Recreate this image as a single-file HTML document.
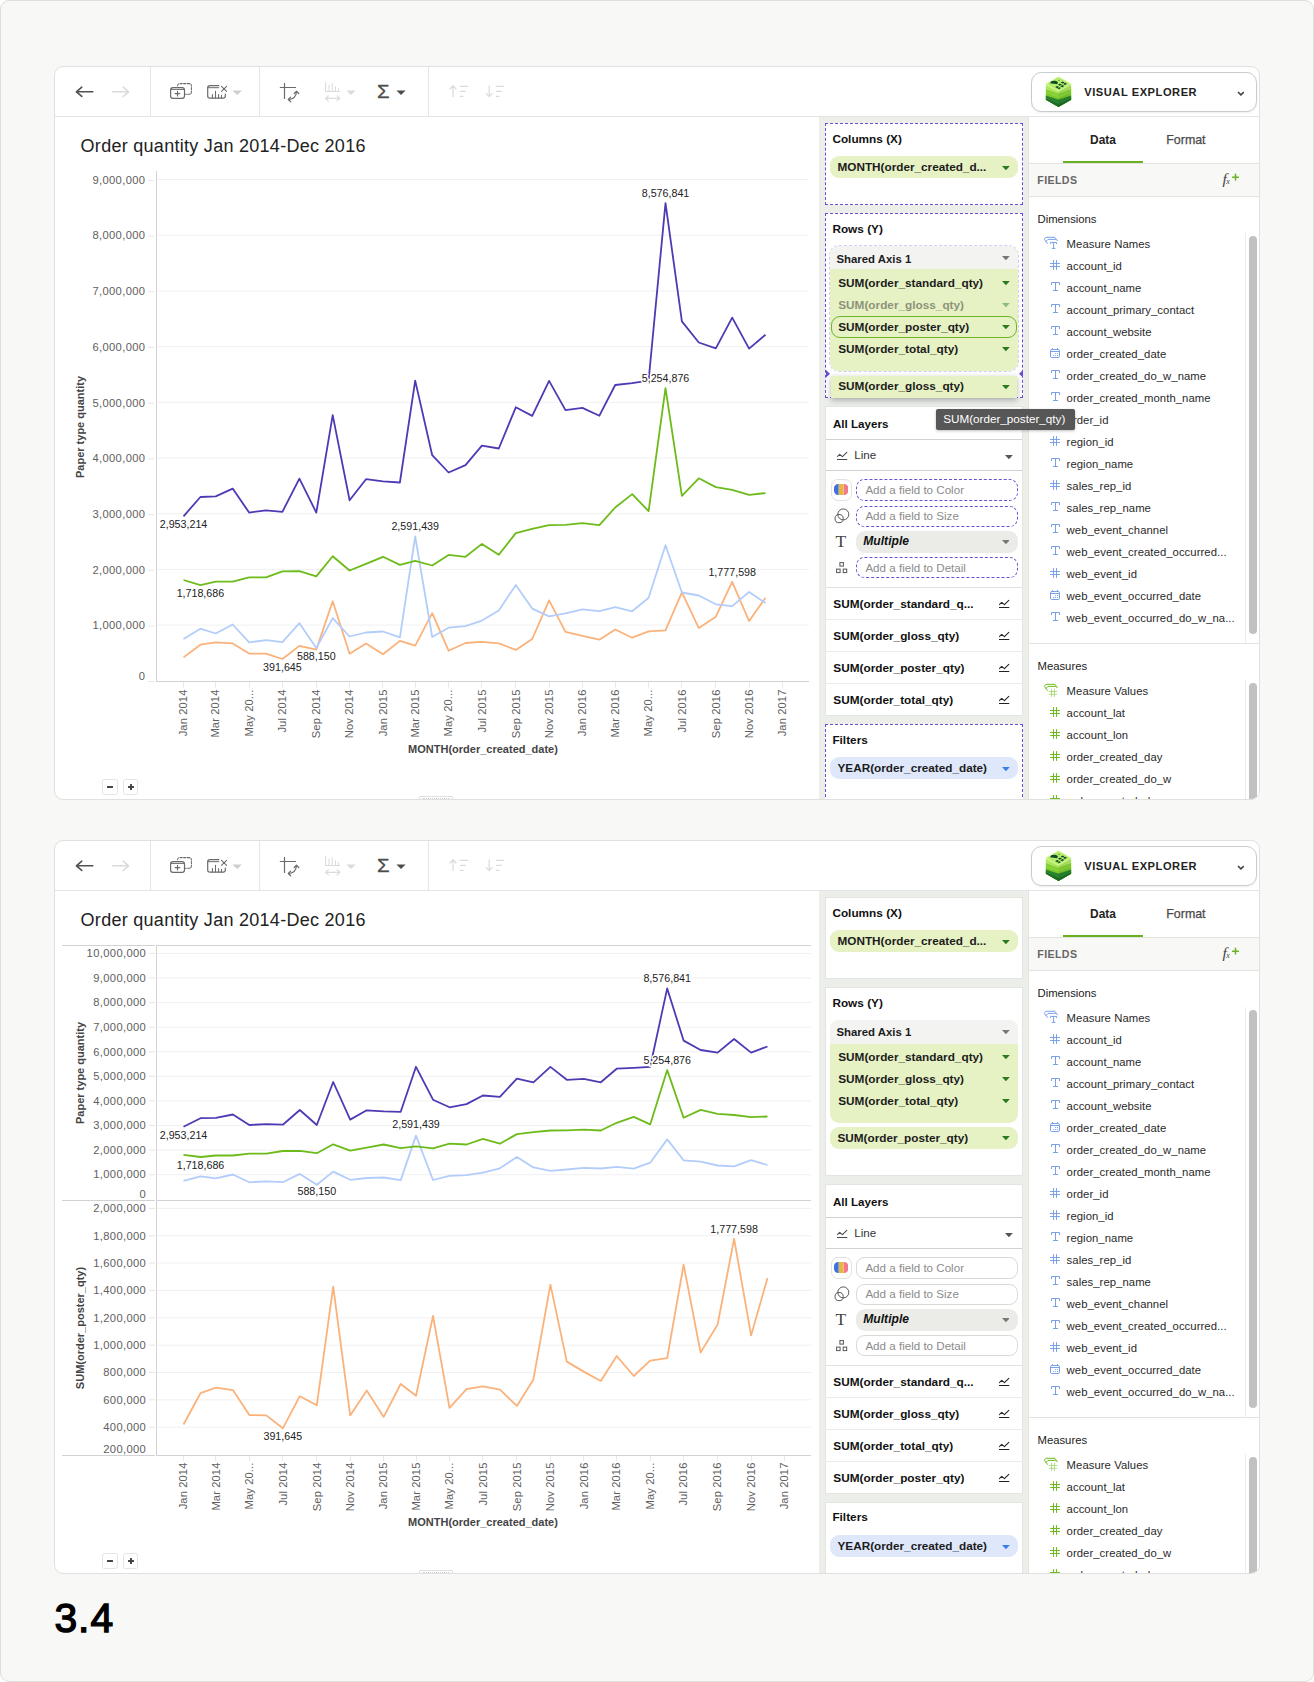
<!DOCTYPE html>
<html lang="en"><head><meta charset="utf-8"><title>Visual Explorer - shared axis</title>
<style>
*{margin:0;padding:0}
html,body{width:1314px;height:1682px;background:#fff;overflow:hidden}
body{position:relative;font-family:"Liberation Sans", sans-serif;font-size:12px;line-height:14px;color:#222}
.page{position:absolute;left:0;top:0;width:1314px;height:1682px;box-sizing:border-box;background:#f8f8f6;border:1px solid #dddfdc;border-radius:9px}
.card{position:absolute;left:54px;width:1206px;height:734px;box-sizing:border-box;background:#fff;border:1px solid #dfe1de;border-radius:9px;overflow:hidden}
.abs{position:absolute}
.b{font-weight:bold}
.chart{position:absolute}
.chart text{font-family:"Liberation Sans", sans-serif}
.al{font-size:11.2px;fill:#606060}
.yl{letter-spacing:.36px}
.xl{letter-spacing:.1px}
.at{font-size:11px;font-weight:bold;fill:#444}
.dl{font-size:10.7px;fill:#222;stroke:#fff;stroke-width:3px;paint-order:stroke;stroke-linejoin:round}
.sigma{font-size:23px;line-height:24px;color:#444;width:14px;text-align:center}
.ve{box-sizing:border-box;border:1px solid #c6cbcb;border-radius:10.5px;background:#fff;box-shadow:0 1px 2px rgba(0,0,0,.07)}
.mid{background:#eceeea;overflow:hidden}
.wc{background:#fff;box-sizing:border-box;border:1px solid #e3e5e0}
.sh{font-size:11.8px;color:#111;white-space:nowrap}
.pt{font-size:11.8px;color:#1c1c1c;white-space:nowrap;line-height:14px}
.hl{left:0;width:100%;height:1px;background:#dcdedb}
.dp{background:#fff;border-left:1px solid #e3e3e0;overflow:hidden}
.tab{font-size:12px;line-height:14px}
.t{white-space:nowrap;line-height:14px}
.zb{width:15.4px;height:15.4px;box-sizing:border-box;border:1px solid #e4e4e4;border-radius:2.5px;background:#fff}
.zb i{position:absolute;background:#444;border-radius:.5px}
.num{position:absolute;left:54.4px;top:1594.6px;font-size:40.8px;line-height:46px;font-weight:normal;color:#000;-webkit-text-stroke:1.35px #000;letter-spacing:1px}
</style></head><body>
<div class="page"></div>
<div class="card" style="top:66px"><svg class="abs" style="left:0;top:0" width="500" height="49" viewBox="55 67 500 49" fill="none" stroke-linecap="round" stroke-linejoin="round"><path d="M92.8 91.8H76.6M81.8 87.2L76.4 91.8L81.8 96.4" stroke="#4f524f" stroke-width="1.6"/><path d="M112.4 91.8H128.4M123.2 87.2L128.6 91.8L123.2 96.4" stroke="#dadcda" stroke-width="1.6"/><line x1="150.5" x2="150.5" y1="67" y2="116" stroke="#e6e6e6" stroke-linecap="butt"/><line x1="259.5" x2="259.5" y1="67" y2="116" stroke="#e6e6e6" stroke-linecap="butt"/><line x1="428.5" x2="428.5" y1="67" y2="116" stroke="#e6e6e6" stroke-linecap="butt"/><rect x="170.6" y="87.6" width="13.9" height="10.8" rx="2.4" stroke="#686b68" stroke-width="1.2"/><path d="M171.4 89.4H183.8" stroke="#686b68" stroke-width="1"/><path d="M177.5 91.2V95.9M175.1 93.55H179.9" stroke="#686b68" stroke-width="1.15"/><path d="M177.6 85.8Q177.6 83.6 180 83.6H189Q191.4 83.6 191.4 86V91.9Q191.4 94.3 189 94.3H185.2" stroke="#686b68" stroke-width="1.05" stroke-dasharray="2.3 1.3"/><path d="M218.8 85.6H209.8Q207.7 85.6 207.7 87.8V96Q207.7 98.2 209.9 98.2H223.1Q225.3 98.2 225.3 96V94.2" stroke="#686b68" stroke-width="1.2"/><path d="M208.2 87.7H218.8" stroke="#686b68" stroke-width="1"/><path d="M212.4 98V94.4M215.5 98V91.3M218.6 98V94.4M221.5 98V95.3" stroke="#686b68" stroke-width="1.05"/><path d="M221.5 86.4L226.6 91.4M226.6 86.4L221.5 91.4" stroke="#686b68" stroke-width="1.05"/><path d="M232.4 90.4H242L237.2 94.9Z" fill="#cdd0cd" stroke="none"/><path d="M284.5 83.4V98.5M280.3 87.5H295.6" stroke="#686b68" stroke-width="1.2"/><path d="M288.8 99.5Q295.8 99.2 296.5 91.8" stroke="#686b68" stroke-width="1.2"/><path d="M290.6 97.1L288.3 99.5L290.7 101.8M294.2 93.5L296.5 91.2L298.8 93.5" stroke="#686b68" stroke-width="1.2"/><path d="M325.6 82.2V91.4H339.8M329 85V91.2M332.2 83.6V91.2M335.4 86.4V91.2M338.4 88.6V91.2" stroke="#dadcda" stroke-width="1.05"/><path d="M325.6 98.4H339.8M328.4 95.8L325.4 98.4L328.4 101M337 95.8L340 98.4L337 101" stroke="#dadcda" stroke-width="1.15"/><path d="M346.4 90.4H355.6L351 94.9Z" fill="#dadcda" stroke="none"/><path d="M396.4 90.4H405.6L401 94.9Z" fill="#4a4d4a" stroke="none"/><path d="M453 96.6V86M450 89L453 85.8L456 89" stroke="#dadcda" stroke-width="1.25"/><path d="M460.4 86.4H467.8M460.4 91.4H465.4M460.4 96.4H463" stroke="#dadcda" stroke-width="1.15"/><path d="M489.2 85.8V96.4M486.2 93.4L489.2 96.6L492.2 93.4" stroke="#dadcda" stroke-width="1.25"/><path d="M496.4 86.4H503.8M496.4 91.4H501.4M496.4 96.4H499" stroke="#dadcda" stroke-width="1.15"/></svg><div class="abs" style="left:322.0px;top:14.0px;font-size:19.2px;line-height:22px;color:#4a4d4a;transform:scaleX(1.06);transform-origin:0 0;-webkit-text-stroke:.3px #4a4d4a">&Sigma;</div><div class="abs" style="left:976.2px;top:5.3px;width:225.6px;height:39.5px;box-sizing:border-box;border:1px solid #c6cbcb;border-radius:10.5px;background:#fff;box-shadow:0 1px 2px rgba(0,0,0,.07)"></div><svg class="abs" style="left:988px;top:8px" width="32" height="34" viewBox="1043 75 32 34"><path d="M1045.9 83.9L1058.5 91.2L1071.1 83.9V99.7L1058.5 106.9L1045.9 99.7Z" fill="#bdf070"/><path d="M1045.9 86.7L1058.5 92.6L1071.1 86.7V99.7L1058.5 106.9L1045.9 99.7Z" fill="#b2e963"/><path d="M1045.9 86.7L1058.5 92.6L1071.1 86.7" fill="none" stroke="#9fdc4e" stroke-width=".6"/><path d="M1045.9 89.6L1058.5 94.0L1071.1 89.6V99.7L1058.5 106.9L1045.9 99.7Z" fill="#86d236"/><path d="M1045.9 89.6L1058.5 94.0L1071.1 89.6" fill="none" stroke="#7cc830" stroke-width=".6"/><path d="M1045.9 92.8L1058.5 97.0L1071.1 92.8V99.7L1058.5 106.9L1045.9 99.7Z" fill="#7ac82e"/><path d="M1045.9 92.8L1058.5 97.0L1071.1 92.8" fill="none" stroke="#93da42" stroke-width=".6"/><path d="M1045.9 96.0L1058.5 99.9L1071.1 96.0V99.7L1058.5 106.9L1045.9 99.7Z" fill="#27812f"/><path d="M1045.9 96.0L1058.5 99.9L1071.1 96.0" fill="none" stroke="#23762b" stroke-width=".6"/><path d="M1045.9 97.9L1058.5 103.4L1071.1 97.9V99.7L1058.5 106.9L1045.9 99.7Z" fill="#1f6b27"/><path d="M1045.9 97.9L1058.5 103.4L1071.1 97.9" fill="none" stroke="#318f38" stroke-width=".6"/><path d="M1071.1 83.9V99.7L1058.5 106.9V91.2Z" fill="#0a3d14" opacity=".07"/><path d="M1058.5 76.7L1071.1 83.9L1058.5 91.10000000000001L1045.9 83.9Z" fill="#c6f57e" stroke="#c6f57e" stroke-width=".4" stroke-linejoin="round"/><g transform="matrix(6.3 3.6 -6.3 3.6 1058.5 83.9)"><rect x="-.82" y="-.82" width="1.64" height="1.64" rx=".18" fill="#b9ee6c" stroke="#9fda50" stroke-width=".06"/><path d="M-.7 .56A.42 .42 0 1 1 -.08 .16L-.36 .34Z" fill="#0d4a2a"/><path d="M-.02 -.52H.74M.08 0H.76M.18 .54H.76" stroke="#0d4a2a" stroke-width=".32" stroke-dasharray=".3 .08" fill="none"/><path d="M-.55 -.5H-.3" stroke="#4c9a3a" stroke-width=".14" fill="none"/></g></svg><div class="abs t" style="left:1029.2px;top:18.4px;font-size:11.1px;line-height:14px;font-weight:bold;color:#222;letter-spacing:.56px">VISUAL EXPLORER</div><svg class="abs" style="left:1181.6px;top:23.6px" width="7.8" height="5.4" viewBox="0 0 7.8 5.4" ><path d="M1 1L3.9 3.9L6.8 1" fill="none" stroke="#444" stroke-width="1.6"/></svg><div class="abs t" style="left:25.6px;top:68.0px;font-size:18px;line-height:22px;font-weight:normal;color:#222;letter-spacing:.28px">Order quantity Jan 2014-Dec 2016</div><svg class="chart" width="764" height="683" viewBox="55 116 764 683" style="left:0;top:49px"><line x1="148" x2="154" y1="681.50" y2="681.50" stroke="#e6e6e6"/><text x="145.4" y="680.3" text-anchor="end" class="al yl">0</text><line x1="157" x2="809" y1="625.10" y2="625.10" stroke="#f0f0f0"/><line x1="148" x2="154" y1="626.00" y2="626.00" stroke="#e6e6e6"/><text x="145.4" y="629.3" text-anchor="end" class="al yl">1,000,000</text><line x1="157" x2="809" y1="569.40" y2="569.40" stroke="#f0f0f0"/><line x1="148" x2="154" y1="570.30" y2="570.30" stroke="#e6e6e6"/><text x="145.4" y="573.6" text-anchor="end" class="al yl">2,000,000</text><line x1="157" x2="809" y1="513.70" y2="513.70" stroke="#f0f0f0"/><line x1="148" x2="154" y1="514.60" y2="514.60" stroke="#e6e6e6"/><text x="145.4" y="517.9" text-anchor="end" class="al yl">3,000,000</text><line x1="157" x2="809" y1="458.00" y2="458.00" stroke="#f0f0f0"/><line x1="148" x2="154" y1="458.90" y2="458.90" stroke="#e6e6e6"/><text x="145.4" y="462.2" text-anchor="end" class="al yl">4,000,000</text><line x1="157" x2="809" y1="402.30" y2="402.30" stroke="#f0f0f0"/><line x1="148" x2="154" y1="403.20" y2="403.20" stroke="#e6e6e6"/><text x="145.4" y="406.5" text-anchor="end" class="al yl">5,000,000</text><line x1="157" x2="809" y1="346.60" y2="346.60" stroke="#f0f0f0"/><line x1="148" x2="154" y1="347.50" y2="347.50" stroke="#e6e6e6"/><text x="145.4" y="350.8" text-anchor="end" class="al yl">6,000,000</text><line x1="157" x2="809" y1="290.90" y2="290.90" stroke="#f0f0f0"/><line x1="148" x2="154" y1="291.80" y2="291.80" stroke="#e6e6e6"/><text x="145.4" y="295.1" text-anchor="end" class="al yl">7,000,000</text><line x1="157" x2="809" y1="235.20" y2="235.20" stroke="#f0f0f0"/><line x1="148" x2="154" y1="236.10" y2="236.10" stroke="#e6e6e6"/><text x="145.4" y="239.4" text-anchor="end" class="al yl">8,000,000</text><line x1="157" x2="809" y1="179.50" y2="179.50" stroke="#f0f0f0"/><line x1="148" x2="154" y1="180.40" y2="180.40" stroke="#e6e6e6"/><text x="145.4" y="183.7" text-anchor="end" class="al yl">9,000,000</text><line x1="156.5" x2="156.5" y1="171" y2="682" stroke="#d2d2d2"/><line x1="156" x2="809" y1="681.5" y2="681.5" stroke="#d2d2d2"/><line x1="183.5" x2="183.5" y1="682" y2="687.8" stroke="#e9e9e9"/><text transform="translate(187.2,689.5) rotate(-90)" text-anchor="end" class="al xl">Jan 2014</text><line x1="215.5" x2="215.5" y1="682" y2="687.8" stroke="#e9e9e9"/><text transform="translate(219.4,689.5) rotate(-90)" text-anchor="end" class="al xl">Mar 2014</text><line x1="249.5" x2="249.5" y1="682" y2="687.8" stroke="#e9e9e9"/><text transform="translate(252.8,689.5) rotate(-90)" text-anchor="end" class="al xl">May 20...</text><line x1="282.5" x2="282.5" y1="682" y2="687.8" stroke="#e9e9e9"/><text transform="translate(286.1,689.5) rotate(-90)" text-anchor="end" class="al xl">Jul 2014</text><line x1="316.5" x2="316.5" y1="682" y2="687.8" stroke="#e9e9e9"/><text transform="translate(320.0,689.5) rotate(-90)" text-anchor="end" class="al xl">Sep 2014</text><line x1="349.5" x2="349.5" y1="682" y2="687.8" stroke="#e9e9e9"/><text transform="translate(353.3,689.5) rotate(-90)" text-anchor="end" class="al xl">Nov 2014</text><line x1="382.5" x2="382.5" y1="682" y2="687.8" stroke="#e9e9e9"/><text transform="translate(386.7,689.5) rotate(-90)" text-anchor="end" class="al xl">Jan 2015</text><line x1="415.5" x2="415.5" y1="682" y2="687.8" stroke="#e9e9e9"/><text transform="translate(418.9,689.5) rotate(-90)" text-anchor="end" class="al xl">Mar 2015</text><line x1="448.5" x2="448.5" y1="682" y2="687.8" stroke="#e9e9e9"/><text transform="translate(452.3,689.5) rotate(-90)" text-anchor="end" class="al xl">May 20...</text><line x1="481.5" x2="481.5" y1="682" y2="687.8" stroke="#e9e9e9"/><text transform="translate(485.6,689.5) rotate(-90)" text-anchor="end" class="al xl">Jul 2015</text><line x1="515.5" x2="515.5" y1="682" y2="687.8" stroke="#e9e9e9"/><text transform="translate(519.5,689.5) rotate(-90)" text-anchor="end" class="al xl">Sep 2015</text><line x1="549.5" x2="549.5" y1="682" y2="687.8" stroke="#e9e9e9"/><text transform="translate(552.8,689.5) rotate(-90)" text-anchor="end" class="al xl">Nov 2015</text><line x1="582.5" x2="582.5" y1="682" y2="687.8" stroke="#e9e9e9"/><text transform="translate(586.1,689.5) rotate(-90)" text-anchor="end" class="al xl">Jan 2016</text><line x1="615.5" x2="615.5" y1="682" y2="687.8" stroke="#e9e9e9"/><text transform="translate(618.9,689.5) rotate(-90)" text-anchor="end" class="al xl">Mar 2016</text><line x1="648.5" x2="648.5" y1="682" y2="687.8" stroke="#e9e9e9"/><text transform="translate(652.3,689.5) rotate(-90)" text-anchor="end" class="al xl">May 20...</text><line x1="681.5" x2="681.5" y1="682" y2="687.8" stroke="#e9e9e9"/><text transform="translate(685.6,689.5) rotate(-90)" text-anchor="end" class="al xl">Jul 2016</text><line x1="715.5" x2="715.5" y1="682" y2="687.8" stroke="#e9e9e9"/><text transform="translate(719.5,689.5) rotate(-90)" text-anchor="end" class="al xl">Sep 2016</text><line x1="749.5" x2="749.5" y1="682" y2="687.8" stroke="#e9e9e9"/><text transform="translate(752.8,689.5) rotate(-90)" text-anchor="end" class="al xl">Nov 2016</text><line x1="782.5" x2="782.5" y1="682" y2="687.8" stroke="#e9e9e9"/><text transform="translate(786.2,689.5) rotate(-90)" text-anchor="end" class="al xl">Jan 2017</text><text x="483" y="753" text-anchor="middle" class="at">MONTH(order_created_date)</text><text transform="translate(84,427) rotate(-90)" text-anchor="middle" class="at">Paper type quantity</text><polyline points="183.5,657.4 200.4,644.7 215.7,642.4 232.7,643.4 249.1,653.6 266.0,653.7 282.4,659.0 299.4,645.9 316.3,649.6 332.7,601.3 349.6,653.7 366.0,643.5 383.0,654.3 399.9,640.9 415.2,645.7 432.2,613.2 448.6,650.7 465.5,643.0 481.9,641.8 498.8,643.3 515.8,649.9 532.2,639.0 549.1,600.4 565.5,631.8 582.4,635.9 599.4,639.7 615.2,629.5 632.2,637.7 648.6,631.4 665.5,630.4 681.9,592.3 698.8,628.1 715.8,616.7 732.2,581.8 749.1,621.1 765.5,597.8" fill="none" stroke="#fbb27a" stroke-width="1.8" stroke-linejoin="round" stroke-linecap="butt"/><polyline points="183.5,639.0 200.4,628.7 215.7,633.5 232.7,624.5 249.1,642.4 266.0,640.1 282.4,642.1 299.4,623.2 316.3,648.0 332.7,618.1 349.6,636.5 366.0,632.5 383.0,631.5 399.9,637.4 415.2,536.5 432.2,637.0 448.6,627.7 465.5,626.2 481.9,620.6 498.8,610.6 515.8,585.0 532.2,608.6 549.1,616.4 565.5,613.4 582.4,609.3 599.4,611.1 615.2,607.1 632.2,611.3 648.6,597.8 665.5,545.2 681.9,592.5 698.8,595.5 715.8,604.3 732.2,606.1 749.1,592.0 765.5,603.0" fill="none" stroke="#b3cdfb" stroke-width="1.8" stroke-linejoin="round" stroke-linecap="butt"/><polyline points="183.5,580.0 200.4,585.1 215.7,581.7 232.7,581.7 249.1,577.4 266.0,577.4 282.4,571.3 299.4,571.1 316.3,576.4 332.7,556.3 349.6,570.5 366.0,563.8 383.0,556.8 399.9,564.9 415.2,560.8 432.2,565.5 448.6,554.9 465.5,556.8 481.9,543.9 498.8,554.8 515.8,533.1 532.2,528.9 549.1,525.1 565.5,524.8 582.4,523.1 599.4,525.1 615.2,507.5 632.2,494.1 648.6,511.2 665.5,388.1 681.9,495.9 698.8,478.3 715.8,487.1 732.2,489.9 749.1,494.9 765.5,493.1" fill="none" stroke="#6dbb1a" stroke-width="1.8" stroke-linejoin="round" stroke-linecap="butt"/><polyline points="183.5,516.3 200.4,497.0 215.7,496.4 232.7,488.6 249.1,512.6 266.0,510.4 282.4,511.8 299.4,478.6 316.3,512.6 332.7,415.1 349.6,500.3 366.0,479.2 383.0,481.4 399.9,482.5 415.2,380.6 432.2,455.2 448.6,472.5 465.5,465.2 481.9,445.7 498.8,448.5 515.8,407.3 532.2,415.9 549.1,380.9 565.5,410.1 582.4,407.9 599.4,415.7 615.2,385.0 632.2,383.1 648.6,380.6 665.5,203.1 681.9,321.4 698.8,342.5 715.8,348.4 732.2,317.6 749.1,348.6 765.5,334.7" fill="none" stroke="#5138b4" stroke-width="1.8" stroke-linejoin="round" stroke-linecap="butt"/><text x="665.5" y="197.0" text-anchor="middle" class="dl">8,576,841</text><text x="183.5" y="528.3" text-anchor="middle" class="dl">2,953,214</text><text x="665.5" y="382.0" text-anchor="middle" class="dl">5,254,876</text><text x="200.4" y="597.1" text-anchor="middle" class="dl">1,718,686</text><text x="415.2" y="530.4" text-anchor="middle" class="dl">2,591,439</text><text x="316.3" y="660.0" text-anchor="middle" class="dl">588,150</text><text x="732.2" y="575.7" text-anchor="middle" class="dl">1,777,598</text><text x="282.4" y="671.0" text-anchor="middle" class="dl">391,645</text></svg><div class="abs zb" style="left:47.4px;top:712.4px"><i style="left:3.9px;top:5.6px;width:5.6px;height:2.3px"></i></div><div class="abs zb" style="left:68px;top:712.4px"><i style="left:3.5px;top:5.7px;width:6.6px;height:2.1px"></i><i style="left:5.75px;top:3.45px;width:2.1px;height:6.6px"></i></div><div class="abs" style="left:364px;top:728.6px;width:33.6px;height:5px;border:1px solid #e0e0e0;border-bottom:none;box-sizing:border-box"><div style="margin:1.2px 3px 0;border-top:1.5px dotted #cfcfcf"></div></div><div class="abs mid" style="left:764px;top:49px;width:209.5px;height:683px"><div class="abs" style="left:6.0px;top:7.0px;width:198.0px;height:82.0px;box-sizing:border-box;background:#fff;border:1px dashed #6a4fd6"></div><div class="abs t" style="left:13.4px;top:15.5px;font-size:11.8px;line-height:14px;font-weight:bold;color:#111;">Columns (X)</div><div class="abs" style="left:11.0px;top:40.0px;width:188.0px;height:22.0px;box-sizing:border-box;background:#e6f1c4;border-radius:9px;"></div><div class="abs t" style="left:18.5px;top:44.1px;font-size:11.75px;line-height:14px;font-weight:bold;color:#1c1c1c;">MONTH(order_created_d...</div><svg class="abs" style="left:182.8px;top:49.6px;opacity:1" width="7.8" height="4.3" viewBox="0 0 7.8 4.3"><path d="M0 0H7.8L3.9 4.3Z" fill="#2c7a1f"/></svg><div class="abs" style="left:6.0px;top:97.0px;width:198.0px;height:185.0px;box-sizing:border-box;background:#fff;border:1px dashed #6a4fd6"></div><div class="abs t" style="left:13.4px;top:106.0px;font-size:11.8px;line-height:14px;font-weight:bold;color:#111;">Rows (Y)</div><div class="abs" style="left:11.0px;top:129.5px;width:188.3px;height:125.3px;box-sizing:border-box;background:#e6f1c4;border-radius:9px;overflow:hidden;outline:1px dashed #d4cdf6"><div style="height:23.9px;background:#f3f4f2"></div></div><div class="abs t" style="left:17.4px;top:135.6px;font-size:11.4px;line-height:14px;font-weight:bold;color:#1c1c1c;">Shared Axis 1</div><svg class="abs" style="left:182.8px;top:140.0px;opacity:1" width="7.8" height="4.3" viewBox="0 0 7.8 4.3"><path d="M0 0H7.8L3.9 4.3Z" fill="#777"/></svg><div class="abs t" style="left:19.2px;top:159.8px;font-size:11.8px;line-height:14px;font-weight:bold;color:#1c1c1c;opacity:1">SUM(order_standard_qty)</div><svg class="abs" style="left:182.8px;top:165.3px;opacity:1" width="7.8" height="4.3" viewBox="0 0 7.8 4.3"><path d="M0 0H7.8L3.9 4.3Z" fill="#2c7a1f"/></svg><div class="abs t" style="left:19.2px;top:181.9px;font-size:11.8px;line-height:14px;font-weight:bold;color:#1c1c1c;opacity:0.45">SUM(order_gloss_qty)</div><svg class="abs" style="left:182.8px;top:187.4px;opacity:0.45" width="7.8" height="4.3" viewBox="0 0 7.8 4.3"><path d="M0 0H7.8L3.9 4.3Z" fill="#2c7a1f"/></svg><div class="abs t" style="left:19.2px;top:203.7px;font-size:11.8px;line-height:14px;font-weight:bold;color:#1c1c1c;opacity:1">SUM(order_poster_qty)</div><svg class="abs" style="left:182.8px;top:209.2px;opacity:1" width="7.8" height="4.3" viewBox="0 0 7.8 4.3"><path d="M0 0H7.8L3.9 4.3Z" fill="#2c7a1f"/></svg><div class="abs t" style="left:19.2px;top:225.8px;font-size:11.8px;line-height:14px;font-weight:bold;color:#1c1c1c;opacity:1">SUM(order_total_qty)</div><svg class="abs" style="left:182.8px;top:231.3px;opacity:1" width="7.8" height="4.3" viewBox="0 0 7.8 4.3"><path d="M0 0H7.8L3.9 4.3Z" fill="#2c7a1f"/></svg><div class="abs" style="left:12.2px;top:200.4px;width:185.6px;height:21.2px;box-sizing:border-box;border:1px solid #6cb52d;border-radius:9px"></div><svg class="abs" style="left:6.6px;top:254.0px" width="4" height="7.6" viewBox="0 0 4 7.6" ><path d="M0 0L4 3.8L0 7.6Z" fill="#6a4fd6"/></svg><svg class="abs" style="left:200.2px;top:254.0px" width="4" height="7.6" viewBox="0 0 4 7.6" ><path d="M4 0L0 3.8L4 7.6Z" fill="#6a4fd6"/></svg><div class="abs" style="left:11.8px;top:260.0px;width:186.4px;height:22.0px;box-sizing:border-box;background:#e6f1c4;box-shadow:0 2px 6px rgba(0,0,0,.3)"></div><div class="abs t" style="left:19.2px;top:263.0px;font-size:11.8px;line-height:14px;font-weight:bold;color:#1c1c1c;">SUM(order_gloss_qty)</div><svg class="abs" style="left:182.8px;top:268.5px;opacity:1" width="7.8" height="4.3" viewBox="0 0 7.8 4.3"><path d="M0 0H7.8L3.9 4.3Z" fill="#2c7a1f"/></svg><div class="abs" style="left:6.0px;top:290.0px;width:198.0px;height:310.0px;box-sizing:border-box;background:#fff;border:1px solid #e3e5e0"></div><div class="abs t" style="left:14.0px;top:300.7px;font-size:11.6px;line-height:14px;font-weight:bold;color:#111;">All Layers</div><div class="abs" style="left:7.0px;top:323.0px;width:196.0px;height:1.0px;box-sizing:border-box;background:#cfd4d3"></div><svg class="abs" style="left:18.0px;top:335.0px" width="12" height="10" viewBox="0 0 12 10" fill="none" stroke="#4a4a4a" stroke-width="1.05" stroke-linecap="round" stroke-linejoin="round"><path d="M0.20 5.70L2.70 3.30L5.40 5.70L9.80 1.40M0.20 8.50H9.90"/></svg><div class="abs t" style="left:35.3px;top:332.0px;font-size:11.6px;line-height:14px;font-weight:normal;color:#333;">Line</div><svg class="abs" style="left:186.4px;top:339.0px;opacity:1" width="7.8" height="4.3" viewBox="0 0 7.8 4.3"><path d="M0 0H7.8L3.9 4.3Z" fill="#555"/></svg><div class="abs" style="left:7.0px;top:354.0px;width:196.0px;height:1.0px;box-sizing:border-box;background:#cfd4d3"></div><div class="abs" style="left:37.2px;top:363.3px;width:161.6px;height:21.3px;box-sizing:border-box;border:1px dashed #6a4fd6;border-radius:8.5px"></div><div class="abs t" style="left:46.4px;top:366.8px;font-size:11.6px;line-height:14px;font-weight:normal;color:#8c8c8c;">Add a field to Color</div><div class="abs" style="left:37.2px;top:389.5px;width:161.6px;height:21.1px;box-sizing:border-box;border:1px dashed #6a4fd6;border-radius:8.5px"></div><div class="abs t" style="left:46.4px;top:392.8px;font-size:11.6px;line-height:14px;font-weight:normal;color:#8c8c8c;">Add a field to Size</div><div class="abs" style="left:37.2px;top:415.1px;width:161.6px;height:21.7px;box-sizing:border-box;background:#ebece8;border-radius:9px"></div><div class="abs t" style="left:44.3px;top:418.2px;font-size:12.1px;line-height:14px;font-weight:bold;color:#111;font-style:italic">Multiple</div><svg class="abs" style="left:182.6px;top:424.4px;opacity:1" width="7.8" height="4.3" viewBox="0 0 7.8 4.3"><path d="M0 0H7.8L3.9 4.3Z" fill="#777"/></svg><div class="abs" style="left:37.2px;top:441.3px;width:161.6px;height:21.1px;box-sizing:border-box;border:1px dashed #6a4fd6;border-radius:8.5px"></div><div class="abs t" style="left:46.4px;top:444.8px;font-size:11.6px;line-height:14px;font-weight:normal;color:#8c8c8c;">Add a field to Detail</div><div class="abs" style="left:11.7px;top:363.3px;width:20.9px;height:21.3px;box-sizing:border-box;border:1px solid #e1e3df;border-radius:7px"></div><svg class="abs" style="left:15.0px;top:368.4px" width="14.4" height="11" viewBox="0 0 14.4 11" ><path d="M4.2 0H4.7V11H4.2A4.2 4.2 0 0 1 0 6.8V4.2A4.2 4.2 0 0 1 4.2 0Z" fill="#3f6fe0"/><rect x="4.9" y="0" width="4.6" height="11" fill="#e8b83a"/><path d="M9.7 0H10.2A4.2 4.2 0 0 1 14.4 4.2V6.8A4.2 4.2 0 0 1 10.2 11H9.7Z" fill="#f37a8c"/></svg><svg class="abs" style="left:14.6px;top:392.4px" width="16" height="16" viewBox="0 0 16 16" fill="none" stroke="#555" stroke-width="1"><circle cx="9.3" cy="6.4" r="5.5"/><circle cx="5.1" cy="10.6" r="4.1"/></svg><div class="abs" style="left:16.4px;top:414.4px;font:17.5px 'Liberation Serif',serif;color:#444;line-height:22px">T</div><svg class="abs" style="left:16.6px;top:446.4px" width="12" height="12" viewBox="0 0 12 12" fill="none" stroke="#555" stroke-width="1"><rect x="3.9" y=".6" width="3.5" height="3.5"/><rect x=".6" y="7.1" width="3.5" height="3.5"/><rect x="7.2" y="7.1" width="3.5" height="3.5"/></svg><div class="abs" style="left:7.0px;top:471.0px;width:196.0px;height:1.0px;box-sizing:border-box;background:#dfe2df"></div><div class="abs t" style="left:14.3px;top:481.4px;font-size:11.8px;line-height:14px;font-weight:bold;color:#111;">SUM(order_standard_q...</div><svg class="abs" style="left:180.0px;top:483.0px" width="12" height="10" viewBox="0 0 12 10" fill="none" stroke="#222" stroke-width="1.05" stroke-linecap="round" stroke-linejoin="round"><path d="M0.20 5.70L2.70 3.30L5.40 5.70L9.80 1.40M0.20 8.50H9.90"/></svg><div class="abs" style="left:7.0px;top:503.0px;width:196.0px;height:1.0px;box-sizing:border-box;background:#ebece9"></div><div class="abs t" style="left:14.3px;top:513.4px;font-size:11.8px;line-height:14px;font-weight:bold;color:#111;">SUM(order_gloss_qty)</div><svg class="abs" style="left:180.0px;top:515.0px" width="12" height="10" viewBox="0 0 12 10" fill="none" stroke="#222" stroke-width="1.05" stroke-linecap="round" stroke-linejoin="round"><path d="M0.20 5.70L2.70 3.30L5.40 5.70L9.80 1.40M0.20 8.50H9.90"/></svg><div class="abs" style="left:7.0px;top:535.0px;width:196.0px;height:1.0px;box-sizing:border-box;background:#ebece9"></div><div class="abs t" style="left:14.3px;top:545.4px;font-size:11.8px;line-height:14px;font-weight:bold;color:#111;">SUM(order_poster_qty)</div><svg class="abs" style="left:180.0px;top:547.0px" width="12" height="10" viewBox="0 0 12 10" fill="none" stroke="#222" stroke-width="1.05" stroke-linecap="round" stroke-linejoin="round"><path d="M0.20 5.70L2.70 3.30L5.40 5.70L9.80 1.40M0.20 8.50H9.90"/></svg><div class="abs" style="left:7.0px;top:567.0px;width:196.0px;height:1.0px;box-sizing:border-box;background:#ebece9"></div><div class="abs t" style="left:14.3px;top:577.4px;font-size:11.8px;line-height:14px;font-weight:bold;color:#111;">SUM(order_total_qty)</div><svg class="abs" style="left:180.0px;top:579.0px" width="12" height="10" viewBox="0 0 12 10" fill="none" stroke="#222" stroke-width="1.05" stroke-linecap="round" stroke-linejoin="round"><path d="M0.20 5.70L2.70 3.30L5.40 5.70L9.80 1.40M0.20 8.50H9.90"/></svg><div class="abs" style="left:6.0px;top:608.0px;width:198.0px;height:88.0px;box-sizing:border-box;background:#fff;border:1px dashed #6a4fd6"></div><div class="abs t" style="left:13.4px;top:616.6px;font-size:11.8px;line-height:14px;font-weight:bold;color:#111;">Filters</div><div class="abs" style="left:11.1px;top:641.1px;width:187.9px;height:21.9px;box-sizing:border-box;background:#dfe8fb;border-radius:9px;"></div><div class="abs t" style="left:18.5px;top:645.4px;font-size:11.75px;line-height:14px;font-weight:bold;color:#1c1c1c;">YEAR(order_created_date)</div><svg class="abs" style="left:182.8px;top:650.9px;opacity:1" width="7.8" height="4.3" viewBox="0 0 7.8 4.3"><path d="M0 0H7.8L3.9 4.3Z" fill="#3b7ded"/></svg></div><div class="abs dp" style="left:973px;top:49px;width:230px;height:683px"><div class="abs t" style="left:61.1px;top:17.0px;font-size:11.9px;line-height:14px;font-weight:bold;color:#222;">Data</div><div class="abs t" style="left:137.3px;top:16.8px;font-size:12.4px;line-height:14px;font-weight:normal;color:#4a4a4a;-webkit-text-stroke:.25px #4a4a4a">Format</div><div class="abs" style="left:34.0px;top:45.0px;width:80.0px;height:2.0px;box-sizing:border-box;background:#6ab023"></div><div class="abs" style="left:0.0px;top:47.0px;width:230.0px;height:34.0px;box-sizing:border-box;background:#f8f8f6;border-top:1px solid #e2e3df;border-bottom:1px solid #e2e3df"></div><div class="abs t" style="left:8.3px;top:57.4px;font-size:10.6px;line-height:14px;font-weight:bold;color:#666;letter-spacing:.4px">FIELDS</div><div class="abs" style="left:193.4000000000001px;top:54.19999999999999px;font:italic 15.5px 'Liberation Serif',serif;color:#444;line-height:18px">f<span style="font-size:8px;margin-left:-.5px">x</span></div><svg class="abs" style="left:202.4px;top:56.8px" width="9" height="9" viewBox="0 0 9 9" ><path d="M4.5 .8V7.6M1.1 4.2H7.9" stroke="#6ab023" stroke-width="1.5" fill="none"/></svg><div class="abs t" style="left:8.5px;top:95.8px;font-size:11.3px;line-height:14px;font-weight:normal;color:#222;">Dimensions</div><svg class="abs" style="left:14.0px;top:120.0px" width="16" height="14" viewBox="0 0 16 14" fill="none" stroke="#7aa0ea" stroke-width="1" stroke-linecap="round" stroke-linejoin="round"><path d="M11.6 1.3H2.9L1.3 3.3L4.5 7.4M14.4 4.5L12.8 3.4H5L3 5.4M11.6 1.3L13.6 3.4"/><path d="M7.6 7.6V6.4H13.6V7.6M10.6 6.4V12.4M9.2 12.4H12"/></svg><div class="abs t" style="left:37.6px;top:120.7px;font-size:11.3px;line-height:14px;font-weight:normal;color:#2a2a2a;letter-spacing:.06px">Measure Names</div><svg class="abs" style="left:21.0px;top:144.0px" width="10" height="10" viewBox="0 0 10 10" fill="none" stroke="#7aa0ea" stroke-width="1" stroke-linecap="round"><path d="M3.5 .5V9.5M6.5 .5V9.5M.5 3.5H9.5M.5 6.5H9.5"/></svg><div class="abs t" style="left:37.6px;top:142.7px;font-size:11.3px;line-height:14px;font-weight:normal;color:#2a2a2a;letter-spacing:.06px">account_id</div><svg class="abs" style="left:21.0px;top:166.0px" width="11" height="10" viewBox="0 0 11 10" fill="none" stroke="#7aa0ea" stroke-width="1" stroke-linecap="round" stroke-linejoin="round"><path d="M1.5 2.6V.5H9.5V2.6M5.5 .5V8.5M3.4 8.5H7.6"/></svg><div class="abs t" style="left:37.6px;top:164.7px;font-size:11.3px;line-height:14px;font-weight:normal;color:#2a2a2a;letter-spacing:.06px">account_name</div><svg class="abs" style="left:21.0px;top:188.0px" width="11" height="10" viewBox="0 0 11 10" fill="none" stroke="#7aa0ea" stroke-width="1" stroke-linecap="round" stroke-linejoin="round"><path d="M1.5 2.6V.5H9.5V2.6M5.5 .5V8.5M3.4 8.5H7.6"/></svg><div class="abs t" style="left:37.6px;top:186.7px;font-size:11.3px;line-height:14px;font-weight:normal;color:#2a2a2a;letter-spacing:.06px">account_primary_contact</div><svg class="abs" style="left:21.0px;top:210.0px" width="11" height="10" viewBox="0 0 11 10" fill="none" stroke="#7aa0ea" stroke-width="1" stroke-linecap="round" stroke-linejoin="round"><path d="M1.5 2.6V.5H9.5V2.6M5.5 .5V8.5M3.4 8.5H7.6"/></svg><div class="abs t" style="left:37.6px;top:208.7px;font-size:11.3px;line-height:14px;font-weight:normal;color:#2a2a2a;letter-spacing:.06px">account_website</div><svg class="abs" style="left:21.0px;top:232.0px" width="10" height="10" viewBox="0 0 10 10" fill="none" stroke="#7aa0ea" stroke-width="1" stroke-linecap="round"><rect x=".5" y="1.5" width="9" height="8" rx="1.3"/><path d="M.5 3.5H9.5M2.5 .2V1.5M7.5 .2V1.5"/><g fill="#7aa0ea" stroke="none"><circle cx="5.5" cy="5.5" r=".62"/><circle cx="7.5" cy="5.5" r=".62"/><circle cx="3.5" cy="7.5" r=".62"/><circle cx="5.5" cy="7.5" r=".62"/><circle cx="7.5" cy="7.5" r=".62"/></g></svg><div class="abs t" style="left:37.6px;top:230.7px;font-size:11.3px;line-height:14px;font-weight:normal;color:#2a2a2a;letter-spacing:.06px">order_created_date</div><svg class="abs" style="left:21.0px;top:254.0px" width="11" height="10" viewBox="0 0 11 10" fill="none" stroke="#7aa0ea" stroke-width="1" stroke-linecap="round" stroke-linejoin="round"><path d="M1.5 2.6V.5H9.5V2.6M5.5 .5V8.5M3.4 8.5H7.6"/></svg><div class="abs t" style="left:37.6px;top:252.7px;font-size:11.3px;line-height:14px;font-weight:normal;color:#2a2a2a;letter-spacing:.06px">order_created_do_w_name</div><svg class="abs" style="left:21.0px;top:276.0px" width="11" height="10" viewBox="0 0 11 10" fill="none" stroke="#7aa0ea" stroke-width="1" stroke-linecap="round" stroke-linejoin="round"><path d="M1.5 2.6V.5H9.5V2.6M5.5 .5V8.5M3.4 8.5H7.6"/></svg><div class="abs t" style="left:37.6px;top:274.7px;font-size:11.3px;line-height:14px;font-weight:normal;color:#2a2a2a;letter-spacing:.06px">order_created_month_name</div><svg class="abs" style="left:21.0px;top:298.0px" width="10" height="10" viewBox="0 0 10 10" fill="none" stroke="#7aa0ea" stroke-width="1" stroke-linecap="round"><path d="M3.5 .5V9.5M6.5 .5V9.5M.5 3.5H9.5M.5 6.5H9.5"/></svg><div class="abs t" style="left:37.6px;top:296.7px;font-size:11.3px;line-height:14px;font-weight:normal;color:#2a2a2a;letter-spacing:.06px">order_id</div><svg class="abs" style="left:21.0px;top:320.0px" width="10" height="10" viewBox="0 0 10 10" fill="none" stroke="#7aa0ea" stroke-width="1" stroke-linecap="round"><path d="M3.5 .5V9.5M6.5 .5V9.5M.5 3.5H9.5M.5 6.5H9.5"/></svg><div class="abs t" style="left:37.6px;top:318.7px;font-size:11.3px;line-height:14px;font-weight:normal;color:#2a2a2a;letter-spacing:.06px">region_id</div><svg class="abs" style="left:21.0px;top:342.0px" width="11" height="10" viewBox="0 0 11 10" fill="none" stroke="#7aa0ea" stroke-width="1" stroke-linecap="round" stroke-linejoin="round"><path d="M1.5 2.6V.5H9.5V2.6M5.5 .5V8.5M3.4 8.5H7.6"/></svg><div class="abs t" style="left:37.6px;top:340.7px;font-size:11.3px;line-height:14px;font-weight:normal;color:#2a2a2a;letter-spacing:.06px">region_name</div><svg class="abs" style="left:21.0px;top:364.0px" width="10" height="10" viewBox="0 0 10 10" fill="none" stroke="#7aa0ea" stroke-width="1" stroke-linecap="round"><path d="M3.5 .5V9.5M6.5 .5V9.5M.5 3.5H9.5M.5 6.5H9.5"/></svg><div class="abs t" style="left:37.6px;top:362.7px;font-size:11.3px;line-height:14px;font-weight:normal;color:#2a2a2a;letter-spacing:.06px">sales_rep_id</div><svg class="abs" style="left:21.0px;top:386.0px" width="11" height="10" viewBox="0 0 11 10" fill="none" stroke="#7aa0ea" stroke-width="1" stroke-linecap="round" stroke-linejoin="round"><path d="M1.5 2.6V.5H9.5V2.6M5.5 .5V8.5M3.4 8.5H7.6"/></svg><div class="abs t" style="left:37.6px;top:384.7px;font-size:11.3px;line-height:14px;font-weight:normal;color:#2a2a2a;letter-spacing:.06px">sales_rep_name</div><svg class="abs" style="left:21.0px;top:408.0px" width="11" height="10" viewBox="0 0 11 10" fill="none" stroke="#7aa0ea" stroke-width="1" stroke-linecap="round" stroke-linejoin="round"><path d="M1.5 2.6V.5H9.5V2.6M5.5 .5V8.5M3.4 8.5H7.6"/></svg><div class="abs t" style="left:37.6px;top:406.7px;font-size:11.3px;line-height:14px;font-weight:normal;color:#2a2a2a;letter-spacing:.06px">web_event_channel</div><svg class="abs" style="left:21.0px;top:430.0px" width="11" height="10" viewBox="0 0 11 10" fill="none" stroke="#7aa0ea" stroke-width="1" stroke-linecap="round" stroke-linejoin="round"><path d="M1.5 2.6V.5H9.5V2.6M5.5 .5V8.5M3.4 8.5H7.6"/></svg><div class="abs t" style="left:37.6px;top:428.7px;font-size:11.3px;line-height:14px;font-weight:normal;color:#2a2a2a;letter-spacing:.06px">web_event_created_occurred...</div><svg class="abs" style="left:21.0px;top:452.0px" width="10" height="10" viewBox="0 0 10 10" fill="none" stroke="#7aa0ea" stroke-width="1" stroke-linecap="round"><path d="M3.5 .5V9.5M6.5 .5V9.5M.5 3.5H9.5M.5 6.5H9.5"/></svg><div class="abs t" style="left:37.6px;top:450.7px;font-size:11.3px;line-height:14px;font-weight:normal;color:#2a2a2a;letter-spacing:.06px">web_event_id</div><svg class="abs" style="left:21.0px;top:474.0px" width="10" height="10" viewBox="0 0 10 10" fill="none" stroke="#7aa0ea" stroke-width="1" stroke-linecap="round"><rect x=".5" y="1.5" width="9" height="8" rx="1.3"/><path d="M.5 3.5H9.5M2.5 .2V1.5M7.5 .2V1.5"/><g fill="#7aa0ea" stroke="none"><circle cx="5.5" cy="5.5" r=".62"/><circle cx="7.5" cy="5.5" r=".62"/><circle cx="3.5" cy="7.5" r=".62"/><circle cx="5.5" cy="7.5" r=".62"/><circle cx="7.5" cy="7.5" r=".62"/></g></svg><div class="abs t" style="left:37.6px;top:472.7px;font-size:11.3px;line-height:14px;font-weight:normal;color:#2a2a2a;letter-spacing:.06px">web_event_occurred_date</div><svg class="abs" style="left:21.0px;top:496.0px" width="11" height="10" viewBox="0 0 11 10" fill="none" stroke="#7aa0ea" stroke-width="1" stroke-linecap="round" stroke-linejoin="round"><path d="M1.5 2.6V.5H9.5V2.6M5.5 .5V8.5M3.4 8.5H7.6"/></svg><div class="abs t" style="left:37.6px;top:494.7px;font-size:11.3px;line-height:14px;font-weight:normal;color:#2a2a2a;letter-spacing:.06px">web_event_occurred_do_w_na...</div><div class="abs" style="left:216.0px;top:117.0px;width:14.0px;height:410.0px;box-sizing:border-box;border-left:1px solid #ededed"></div><div class="abs" style="left:220.3px;top:120.1px;width:7.6px;height:397.6px;box-sizing:border-box;background:#c1c1c1;border-radius:4px"></div><div class="abs" style="left:0.0px;top:527.0px;width:230.0px;height:1.0px;box-sizing:border-box;background:#e2e3df"></div><div class="abs t" style="left:8.5px;top:542.5px;font-size:11.3px;line-height:14px;font-weight:normal;color:#222;">Measures</div><svg class="abs" style="left:14.0px;top:567.0px" width="16" height="15" viewBox="0 0 16 15" fill="none" stroke="#6dbb1a" stroke-width="1" stroke-linecap="round" stroke-linejoin="round"><path d="M11.6 1.3H2.9L1.3 3.3L4.5 7.4M14.4 4.5L12.8 3.4H5L3 5.4M11.6 1.3L13.6 3.4"/><path d="M8.5 6.2V13.6M11.4 6.2V13.6M6.2 8.5H13.9M6.2 11.3H13.9" stroke-width=".8" opacity=".62"/></svg><div class="abs t" style="left:37.6px;top:568.2px;font-size:11.3px;line-height:14px;font-weight:normal;color:#2a2a2a;letter-spacing:.06px">Measure Values</div><svg class="abs" style="left:21.0px;top:591.0px" width="10" height="10" viewBox="0 0 10 10" fill="none" stroke="#6dbb1a" stroke-width="1" stroke-linecap="round"><path d="M3.5 .5V9.5M6.5 .5V9.5M.5 3.5H9.5M.5 6.5H9.5"/></svg><div class="abs t" style="left:37.6px;top:590.2px;font-size:11.3px;line-height:14px;font-weight:normal;color:#2a2a2a;letter-spacing:.06px">account_lat</div><svg class="abs" style="left:21.0px;top:613.0px" width="10" height="10" viewBox="0 0 10 10" fill="none" stroke="#6dbb1a" stroke-width="1" stroke-linecap="round"><path d="M3.5 .5V9.5M6.5 .5V9.5M.5 3.5H9.5M.5 6.5H9.5"/></svg><div class="abs t" style="left:37.6px;top:612.2px;font-size:11.3px;line-height:14px;font-weight:normal;color:#2a2a2a;letter-spacing:.06px">account_lon</div><svg class="abs" style="left:21.0px;top:635.0px" width="10" height="10" viewBox="0 0 10 10" fill="none" stroke="#6dbb1a" stroke-width="1" stroke-linecap="round"><path d="M3.5 .5V9.5M6.5 .5V9.5M.5 3.5H9.5M.5 6.5H9.5"/></svg><div class="abs t" style="left:37.6px;top:634.2px;font-size:11.3px;line-height:14px;font-weight:normal;color:#2a2a2a;letter-spacing:.06px">order_created_day</div><svg class="abs" style="left:21.0px;top:657.0px" width="10" height="10" viewBox="0 0 10 10" fill="none" stroke="#6dbb1a" stroke-width="1" stroke-linecap="round"><path d="M3.5 .5V9.5M6.5 .5V9.5M.5 3.5H9.5M.5 6.5H9.5"/></svg><div class="abs t" style="left:37.6px;top:656.2px;font-size:11.3px;line-height:14px;font-weight:normal;color:#2a2a2a;letter-spacing:.06px">order_created_do_w</div><svg class="abs" style="left:21.0px;top:679.0px" width="10" height="10" viewBox="0 0 10 10" fill="none" stroke="#6dbb1a" stroke-width="1" stroke-linecap="round"><path d="M3.5 .5V9.5M6.5 .5V9.5M.5 3.5H9.5M.5 6.5H9.5"/></svg><div class="abs t" style="left:37.6px;top:678.2px;font-size:11.3px;line-height:14px;font-weight:normal;color:#2a2a2a;letter-spacing:.06px">order_created_day_</div><div class="abs" style="left:216.0px;top:564.0px;width:14.0px;height:120.0px;box-sizing:border-box;border-left:1px solid #ededed"></div><div class="abs" style="left:220.3px;top:567.3px;width:7.6px;height:146.7px;box-sizing:border-box;background:#c1c1c1;border-radius:4px"></div></div><div class="abs" style="left:881.1px;top:342.4px;width:138.8px;height:20.3px;box-sizing:border-box;background:#575757;border-radius:2px;box-shadow:0 1px 3px rgba(0,0,0,.25)"></div><div class="abs t" style="left:888.2px;top:344.8px;font-size:11.7px;line-height:14px;font-weight:normal;color:#fff;">SUM(order_poster_qty)</div><div class="abs" style="left:0.0px;top:49.0px;width:1204.0px;height:1.0px;box-sizing:border-box;background:#e4e5e2"></div></div>
<div class="card" style="top:840px"><svg class="abs" style="left:0;top:0" width="500" height="49" viewBox="55 67 500 49" fill="none" stroke-linecap="round" stroke-linejoin="round"><path d="M92.8 91.8H76.6M81.8 87.2L76.4 91.8L81.8 96.4" stroke="#4f524f" stroke-width="1.6"/><path d="M112.4 91.8H128.4M123.2 87.2L128.6 91.8L123.2 96.4" stroke="#dadcda" stroke-width="1.6"/><line x1="150.5" x2="150.5" y1="67" y2="116" stroke="#e6e6e6" stroke-linecap="butt"/><line x1="259.5" x2="259.5" y1="67" y2="116" stroke="#e6e6e6" stroke-linecap="butt"/><line x1="428.5" x2="428.5" y1="67" y2="116" stroke="#e6e6e6" stroke-linecap="butt"/><rect x="170.6" y="87.6" width="13.9" height="10.8" rx="2.4" stroke="#686b68" stroke-width="1.2"/><path d="M171.4 89.4H183.8" stroke="#686b68" stroke-width="1"/><path d="M177.5 91.2V95.9M175.1 93.55H179.9" stroke="#686b68" stroke-width="1.15"/><path d="M177.6 85.8Q177.6 83.6 180 83.6H189Q191.4 83.6 191.4 86V91.9Q191.4 94.3 189 94.3H185.2" stroke="#686b68" stroke-width="1.05" stroke-dasharray="2.3 1.3"/><path d="M218.8 85.6H209.8Q207.7 85.6 207.7 87.8V96Q207.7 98.2 209.9 98.2H223.1Q225.3 98.2 225.3 96V94.2" stroke="#686b68" stroke-width="1.2"/><path d="M208.2 87.7H218.8" stroke="#686b68" stroke-width="1"/><path d="M212.4 98V94.4M215.5 98V91.3M218.6 98V94.4M221.5 98V95.3" stroke="#686b68" stroke-width="1.05"/><path d="M221.5 86.4L226.6 91.4M226.6 86.4L221.5 91.4" stroke="#686b68" stroke-width="1.05"/><path d="M232.4 90.4H242L237.2 94.9Z" fill="#cdd0cd" stroke="none"/><path d="M284.5 83.4V98.5M280.3 87.5H295.6" stroke="#686b68" stroke-width="1.2"/><path d="M288.8 99.5Q295.8 99.2 296.5 91.8" stroke="#686b68" stroke-width="1.2"/><path d="M290.6 97.1L288.3 99.5L290.7 101.8M294.2 93.5L296.5 91.2L298.8 93.5" stroke="#686b68" stroke-width="1.2"/><path d="M325.6 82.2V91.4H339.8M329 85V91.2M332.2 83.6V91.2M335.4 86.4V91.2M338.4 88.6V91.2" stroke="#dadcda" stroke-width="1.05"/><path d="M325.6 98.4H339.8M328.4 95.8L325.4 98.4L328.4 101M337 95.8L340 98.4L337 101" stroke="#dadcda" stroke-width="1.15"/><path d="M346.4 90.4H355.6L351 94.9Z" fill="#dadcda" stroke="none"/><path d="M396.4 90.4H405.6L401 94.9Z" fill="#4a4d4a" stroke="none"/><path d="M453 96.6V86M450 89L453 85.8L456 89" stroke="#dadcda" stroke-width="1.25"/><path d="M460.4 86.4H467.8M460.4 91.4H465.4M460.4 96.4H463" stroke="#dadcda" stroke-width="1.15"/><path d="M489.2 85.8V96.4M486.2 93.4L489.2 96.6L492.2 93.4" stroke="#dadcda" stroke-width="1.25"/><path d="M496.4 86.4H503.8M496.4 91.4H501.4M496.4 96.4H499" stroke="#dadcda" stroke-width="1.15"/></svg><div class="abs" style="left:322.0px;top:14.0px;font-size:19.2px;line-height:22px;color:#4a4d4a;transform:scaleX(1.06);transform-origin:0 0;-webkit-text-stroke:.3px #4a4d4a">&Sigma;</div><div class="abs" style="left:976.2px;top:5.3px;width:225.6px;height:39.5px;box-sizing:border-box;border:1px solid #c6cbcb;border-radius:10.5px;background:#fff;box-shadow:0 1px 2px rgba(0,0,0,.07)"></div><svg class="abs" style="left:988px;top:8px" width="32" height="34" viewBox="1043 75 32 34"><path d="M1045.9 83.9L1058.5 91.2L1071.1 83.9V99.7L1058.5 106.9L1045.9 99.7Z" fill="#bdf070"/><path d="M1045.9 86.7L1058.5 92.6L1071.1 86.7V99.7L1058.5 106.9L1045.9 99.7Z" fill="#b2e963"/><path d="M1045.9 86.7L1058.5 92.6L1071.1 86.7" fill="none" stroke="#9fdc4e" stroke-width=".6"/><path d="M1045.9 89.6L1058.5 94.0L1071.1 89.6V99.7L1058.5 106.9L1045.9 99.7Z" fill="#86d236"/><path d="M1045.9 89.6L1058.5 94.0L1071.1 89.6" fill="none" stroke="#7cc830" stroke-width=".6"/><path d="M1045.9 92.8L1058.5 97.0L1071.1 92.8V99.7L1058.5 106.9L1045.9 99.7Z" fill="#7ac82e"/><path d="M1045.9 92.8L1058.5 97.0L1071.1 92.8" fill="none" stroke="#93da42" stroke-width=".6"/><path d="M1045.9 96.0L1058.5 99.9L1071.1 96.0V99.7L1058.5 106.9L1045.9 99.7Z" fill="#27812f"/><path d="M1045.9 96.0L1058.5 99.9L1071.1 96.0" fill="none" stroke="#23762b" stroke-width=".6"/><path d="M1045.9 97.9L1058.5 103.4L1071.1 97.9V99.7L1058.5 106.9L1045.9 99.7Z" fill="#1f6b27"/><path d="M1045.9 97.9L1058.5 103.4L1071.1 97.9" fill="none" stroke="#318f38" stroke-width=".6"/><path d="M1071.1 83.9V99.7L1058.5 106.9V91.2Z" fill="#0a3d14" opacity=".07"/><path d="M1058.5 76.7L1071.1 83.9L1058.5 91.10000000000001L1045.9 83.9Z" fill="#c6f57e" stroke="#c6f57e" stroke-width=".4" stroke-linejoin="round"/><g transform="matrix(6.3 3.6 -6.3 3.6 1058.5 83.9)"><rect x="-.82" y="-.82" width="1.64" height="1.64" rx=".18" fill="#b9ee6c" stroke="#9fda50" stroke-width=".06"/><path d="M-.7 .56A.42 .42 0 1 1 -.08 .16L-.36 .34Z" fill="#0d4a2a"/><path d="M-.02 -.52H.74M.08 0H.76M.18 .54H.76" stroke="#0d4a2a" stroke-width=".32" stroke-dasharray=".3 .08" fill="none"/><path d="M-.55 -.5H-.3" stroke="#4c9a3a" stroke-width=".14" fill="none"/></g></svg><div class="abs t" style="left:1029.2px;top:18.4px;font-size:11.1px;line-height:14px;font-weight:bold;color:#222;letter-spacing:.56px">VISUAL EXPLORER</div><svg class="abs" style="left:1181.6px;top:23.6px" width="7.8" height="5.4" viewBox="0 0 7.8 5.4" ><path d="M1 1L3.9 3.9L6.8 1" fill="none" stroke="#444" stroke-width="1.6"/></svg><div class="abs t" style="left:25.6px;top:68.0px;font-size:18px;line-height:22px;font-weight:normal;color:#222;letter-spacing:.28px">Order quantity Jan 2014-Dec 2016</div><svg class="chart" width="764" height="683" viewBox="55 890 764 683" style="left:0;top:49px"><text x="146.2" y="1197.6" text-anchor="end" class="al yl">0</text><line x1="157" x2="811" y1="1174.71" y2="1174.71" stroke="#f0f0f0"/><line x1="149" x2="155" y1="1174.71" y2="1174.71" stroke="#e6e6e6"/><text x="146.2" y="1178.4" text-anchor="end" class="al yl">1,000,000</text><line x1="157" x2="811" y1="1150.12" y2="1150.12" stroke="#f0f0f0"/><line x1="149" x2="155" y1="1150.12" y2="1150.12" stroke="#e6e6e6"/><text x="146.2" y="1153.8" text-anchor="end" class="al yl">2,000,000</text><line x1="157" x2="811" y1="1125.53" y2="1125.53" stroke="#f0f0f0"/><line x1="149" x2="155" y1="1125.53" y2="1125.53" stroke="#e6e6e6"/><text x="146.2" y="1129.2" text-anchor="end" class="al yl">3,000,000</text><line x1="157" x2="811" y1="1100.94" y2="1100.94" stroke="#f0f0f0"/><line x1="149" x2="155" y1="1100.94" y2="1100.94" stroke="#e6e6e6"/><text x="146.2" y="1104.6" text-anchor="end" class="al yl">4,000,000</text><line x1="157" x2="811" y1="1076.35" y2="1076.35" stroke="#f0f0f0"/><line x1="149" x2="155" y1="1076.35" y2="1076.35" stroke="#e6e6e6"/><text x="146.2" y="1080.0" text-anchor="end" class="al yl">5,000,000</text><line x1="157" x2="811" y1="1051.76" y2="1051.76" stroke="#f0f0f0"/><line x1="149" x2="155" y1="1051.76" y2="1051.76" stroke="#e6e6e6"/><text x="146.2" y="1055.5" text-anchor="end" class="al yl">6,000,000</text><line x1="157" x2="811" y1="1027.17" y2="1027.17" stroke="#f0f0f0"/><line x1="149" x2="155" y1="1027.17" y2="1027.17" stroke="#e6e6e6"/><text x="146.2" y="1030.9" text-anchor="end" class="al yl">7,000,000</text><line x1="157" x2="811" y1="1002.58" y2="1002.58" stroke="#f0f0f0"/><line x1="149" x2="155" y1="1002.58" y2="1002.58" stroke="#e6e6e6"/><text x="146.2" y="1006.3" text-anchor="end" class="al yl">8,000,000</text><line x1="157" x2="811" y1="977.99" y2="977.99" stroke="#f0f0f0"/><line x1="149" x2="155" y1="977.99" y2="977.99" stroke="#e6e6e6"/><text x="146.2" y="981.7" text-anchor="end" class="al yl">9,000,000</text><line x1="157" x2="811" y1="953.40" y2="953.40" stroke="#f0f0f0"/><line x1="149" x2="155" y1="953.40" y2="953.40" stroke="#e6e6e6"/><text x="146.2" y="957.1" text-anchor="end" class="al yl">10,000,000</text><text x="146.2" y="1453.4" text-anchor="end" class="al yl">200,000</text><line x1="157" x2="811" y1="1427.20" y2="1427.20" stroke="#f0f0f0"/><line x1="149" x2="155" y1="1427.20" y2="1427.20" stroke="#e6e6e6"/><text x="146.2" y="1430.9" text-anchor="end" class="al yl">400,000</text><line x1="157" x2="811" y1="1399.85" y2="1399.85" stroke="#f0f0f0"/><line x1="149" x2="155" y1="1399.85" y2="1399.85" stroke="#e6e6e6"/><text x="146.2" y="1403.6" text-anchor="end" class="al yl">600,000</text><line x1="157" x2="811" y1="1372.50" y2="1372.50" stroke="#f0f0f0"/><line x1="149" x2="155" y1="1372.50" y2="1372.50" stroke="#e6e6e6"/><text x="146.2" y="1376.2" text-anchor="end" class="al yl">800,000</text><line x1="157" x2="811" y1="1345.15" y2="1345.15" stroke="#f0f0f0"/><line x1="149" x2="155" y1="1345.15" y2="1345.15" stroke="#e6e6e6"/><text x="146.2" y="1348.9" text-anchor="end" class="al yl">1,000,000</text><line x1="157" x2="811" y1="1317.80" y2="1317.80" stroke="#f0f0f0"/><line x1="149" x2="155" y1="1317.80" y2="1317.80" stroke="#e6e6e6"/><text x="146.2" y="1321.5" text-anchor="end" class="al yl">1,200,000</text><line x1="157" x2="811" y1="1290.45" y2="1290.45" stroke="#f0f0f0"/><line x1="149" x2="155" y1="1290.45" y2="1290.45" stroke="#e6e6e6"/><text x="146.2" y="1294.2" text-anchor="end" class="al yl">1,400,000</text><line x1="157" x2="811" y1="1263.10" y2="1263.10" stroke="#f0f0f0"/><line x1="149" x2="155" y1="1263.10" y2="1263.10" stroke="#e6e6e6"/><text x="146.2" y="1266.8" text-anchor="end" class="al yl">1,600,000</text><line x1="157" x2="811" y1="1235.75" y2="1235.75" stroke="#f0f0f0"/><line x1="149" x2="155" y1="1235.75" y2="1235.75" stroke="#e6e6e6"/><text x="146.2" y="1239.5" text-anchor="end" class="al yl">1,800,000</text><line x1="157" x2="811" y1="1208.40" y2="1208.40" stroke="#f0f0f0"/><line x1="149" x2="155" y1="1208.40" y2="1208.40" stroke="#e6e6e6"/><text x="146.2" y="1212.1" text-anchor="end" class="al yl">2,000,000</text><line x1="62" x2="154.8" y1="945.5" y2="945.5" stroke="#d2d2d2"/><line x1="156" x2="811" y1="945.5" y2="945.5" stroke="#d2d2d2"/><line x1="62" x2="154.8" y1="1200.5" y2="1200.5" stroke="#d2d2d2"/><line x1="156" x2="811" y1="1200.5" y2="1200.5" stroke="#d2d2d2"/><line x1="62" x2="154.8" y1="1455.5" y2="1455.5" stroke="#d2d2d2"/><line x1="156" x2="811" y1="1455.5" y2="1455.5" stroke="#d2d2d2"/><line x1="156.5" x2="156.5" y1="945" y2="1456" stroke="#d2d2d2"/><line x1="183.5" x2="183.5" y1="1456" y2="1461" stroke="#e9e9e9"/><text transform="translate(187.2,1462.5) rotate(-90)" text-anchor="end" class="al xl">Jan 2014</text><line x1="215.5" x2="215.5" y1="1456" y2="1461" stroke="#e9e9e9"/><text transform="translate(219.6,1462.5) rotate(-90)" text-anchor="end" class="al xl">Mar 2014</text><line x1="249.5" x2="249.5" y1="1456" y2="1461" stroke="#e9e9e9"/><text transform="translate(253.0,1462.5) rotate(-90)" text-anchor="end" class="al xl">May 20...</text><line x1="282.5" x2="282.5" y1="1456" y2="1461" stroke="#e9e9e9"/><text transform="translate(286.5,1462.5) rotate(-90)" text-anchor="end" class="al xl">Jul 2014</text><line x1="316.5" x2="316.5" y1="1456" y2="1461" stroke="#e9e9e9"/><text transform="translate(320.5,1462.5) rotate(-90)" text-anchor="end" class="al xl">Sep 2014</text><line x1="350.5" x2="350.5" y1="1456" y2="1461" stroke="#e9e9e9"/><text transform="translate(353.9,1462.5) rotate(-90)" text-anchor="end" class="al xl">Nov 2014</text><line x1="383.5" x2="383.5" y1="1456" y2="1461" stroke="#e9e9e9"/><text transform="translate(387.4,1462.5) rotate(-90)" text-anchor="end" class="al xl">Jan 2015</text><line x1="416.5" x2="416.5" y1="1456" y2="1461" stroke="#e9e9e9"/><text transform="translate(419.7,1462.5) rotate(-90)" text-anchor="end" class="al xl">Mar 2015</text><line x1="449.5" x2="449.5" y1="1456" y2="1461" stroke="#e9e9e9"/><text transform="translate(453.2,1462.5) rotate(-90)" text-anchor="end" class="al xl">May 20...</text><line x1="482.5" x2="482.5" y1="1456" y2="1461" stroke="#e9e9e9"/><text transform="translate(486.6,1462.5) rotate(-90)" text-anchor="end" class="al xl">Jul 2015</text><line x1="516.5" x2="516.5" y1="1456" y2="1461" stroke="#e9e9e9"/><text transform="translate(520.6,1462.5) rotate(-90)" text-anchor="end" class="al xl">Sep 2015</text><line x1="550.5" x2="550.5" y1="1456" y2="1461" stroke="#e9e9e9"/><text transform="translate(554.1,1462.5) rotate(-90)" text-anchor="end" class="al xl">Nov 2015</text><line x1="583.5" x2="583.5" y1="1456" y2="1461" stroke="#e9e9e9"/><text transform="translate(587.5,1462.5) rotate(-90)" text-anchor="end" class="al xl">Jan 2016</text><line x1="616.5" x2="616.5" y1="1456" y2="1461" stroke="#e9e9e9"/><text transform="translate(620.4,1462.5) rotate(-90)" text-anchor="end" class="al xl">Mar 2016</text><line x1="650.5" x2="650.5" y1="1456" y2="1461" stroke="#e9e9e9"/><text transform="translate(653.9,1462.5) rotate(-90)" text-anchor="end" class="al xl">May 20...</text><line x1="683.5" x2="683.5" y1="1456" y2="1461" stroke="#e9e9e9"/><text transform="translate(687.3,1462.5) rotate(-90)" text-anchor="end" class="al xl">Jul 2016</text><line x1="717.5" x2="717.5" y1="1456" y2="1461" stroke="#e9e9e9"/><text transform="translate(721.3,1462.5) rotate(-90)" text-anchor="end" class="al xl">Sep 2016</text><line x1="751.5" x2="751.5" y1="1456" y2="1461" stroke="#e9e9e9"/><text transform="translate(754.8,1462.5) rotate(-90)" text-anchor="end" class="al xl">Nov 2016</text><line x1="784.5" x2="784.5" y1="1456" y2="1461" stroke="#e9e9e9"/><text transform="translate(788.2,1462.5) rotate(-90)" text-anchor="end" class="al xl">Jan 2017</text><text x="483" y="1525.8" text-anchor="middle" class="at">MONTH(order_created_date)</text><text transform="translate(84,1073) rotate(-90)" text-anchor="middle" class="at">Paper type quantity</text><text transform="translate(84,1328) rotate(-90)" text-anchor="middle" class="at">SUM(order_poster_qty)</text><polyline points="183.5,1180.9 200.5,1176.3 215.9,1178.4 232.9,1174.5 249.3,1182.3 266.3,1181.3 282.8,1182.2 299.8,1173.9 316.8,1184.8 333.2,1171.6 350.2,1179.8 366.7,1178.0 383.7,1177.5 400.7,1180.1 416.0,1135.6 433.0,1180.0 449.5,1175.9 466.5,1175.2 482.9,1172.7 499.9,1168.3 516.9,1157.0 533.4,1167.4 550.4,1170.9 566.8,1169.5 583.8,1167.8 600.8,1168.5 616.7,1166.8 633.7,1168.6 650.2,1162.7 667.2,1139.4 683.6,1160.3 700.6,1161.7 717.6,1165.5 734.1,1166.3 751.1,1160.1 767.5,1165.0" fill="none" stroke="#b3cdfb" stroke-width="1.8" stroke-linejoin="round" stroke-linecap="butt"/><polyline points="183.5,1154.8 200.5,1157.0 215.9,1155.5 232.9,1155.5 249.3,1153.7 266.3,1153.7 282.8,1151.0 299.8,1150.9 316.8,1153.2 333.2,1144.3 350.2,1150.6 366.7,1147.7 383.7,1144.5 400.7,1148.2 416.0,1146.3 433.0,1148.4 449.5,1143.7 466.5,1144.5 482.9,1138.9 499.9,1143.7 516.9,1134.1 533.4,1132.2 550.4,1130.5 566.8,1130.4 583.8,1129.7 600.8,1130.5 616.7,1122.8 633.7,1116.9 650.2,1124.4 667.2,1070.1 683.6,1117.7 700.6,1109.9 717.6,1113.8 734.1,1115.0 751.1,1117.2 767.5,1116.5" fill="none" stroke="#6dbb1a" stroke-width="1.8" stroke-linejoin="round" stroke-linecap="butt"/><polyline points="183.5,1126.7 200.5,1118.2 215.9,1117.9 232.9,1114.5 249.3,1125.0 266.3,1124.1 282.8,1124.7 299.8,1110.0 316.8,1125.0 333.2,1082.0 350.2,1119.6 366.7,1110.3 383.7,1111.3 400.7,1111.8 416.0,1066.8 433.0,1099.7 449.5,1107.3 466.5,1104.1 482.9,1095.5 499.9,1096.8 516.9,1078.6 533.4,1082.3 550.4,1066.9 566.8,1079.8 583.8,1078.8 600.8,1082.3 616.7,1068.7 633.7,1067.9 650.2,1066.8 667.2,988.4 683.6,1040.6 700.6,1050.0 717.6,1052.6 734.1,1039.0 751.1,1052.6 767.5,1046.5" fill="none" stroke="#5138b4" stroke-width="1.8" stroke-linejoin="round" stroke-linecap="butt"/><polyline points="183.5,1424.5 200.5,1393.2 215.9,1387.7 232.9,1390.1 249.3,1415.1 266.3,1415.4 282.8,1428.3 299.8,1396.2 316.8,1405.3 333.2,1286.6 350.2,1415.4 366.7,1390.4 383.7,1416.9 400.7,1384.0 416.0,1395.7 433.0,1316.0 449.5,1407.9 466.5,1389.1 482.9,1386.3 499.9,1389.7 516.9,1405.9 533.4,1379.4 550.4,1284.6 566.8,1361.6 583.8,1371.6 600.8,1381.0 616.7,1356.0 633.7,1376.0 650.2,1360.7 667.2,1358.2 683.6,1264.6 700.6,1352.6 717.6,1324.5 734.1,1238.8 751.1,1335.4 767.5,1278.0" fill="none" stroke="#fbb27a" stroke-width="1.8" stroke-linejoin="round" stroke-linecap="butt"/><text x="667.2" y="982.3" text-anchor="middle" class="dl">8,576,841</text><text x="183.5" y="1138.7" text-anchor="middle" class="dl">2,953,214</text><text x="667.2" y="1064.0" text-anchor="middle" class="dl">5,254,876</text><text x="200.5" y="1169.0" text-anchor="middle" class="dl">1,718,686</text><text x="416.0" y="1128.0" text-anchor="middle" class="dl">2,591,439</text><text x="316.8" y="1194.7" text-anchor="middle" class="dl">588,150</text><text x="734.1" y="1232.7" text-anchor="middle" class="dl">1,777,598</text><text x="282.8" y="1440.3" text-anchor="middle" class="dl">391,645</text></svg><div class="abs zb" style="left:47.4px;top:712.4px"><i style="left:3.9px;top:5.6px;width:5.6px;height:2.3px"></i></div><div class="abs zb" style="left:68px;top:712.4px"><i style="left:3.5px;top:5.7px;width:6.6px;height:2.1px"></i><i style="left:5.75px;top:3.45px;width:2.1px;height:6.6px"></i></div><div class="abs" style="left:364px;top:728.6px;width:33.6px;height:5px;border:1px solid #e0e0e0;border-bottom:none;box-sizing:border-box"><div style="margin:1.2px 3px 0;border-top:1.5px dotted #cfcfcf"></div></div><div class="abs mid" style="left:764px;top:49px;width:209.5px;height:683px"><div class="abs" style="left:6.0px;top:7.4px;width:198.0px;height:81.6px;box-sizing:border-box;background:#fff;border:1px solid #e3e5e0"></div><div class="abs t" style="left:13.4px;top:15.5px;font-size:11.8px;line-height:14px;font-weight:bold;color:#111;">Columns (X)</div><div class="abs" style="left:11.0px;top:40.2px;width:188.0px;height:21.8px;box-sizing:border-box;background:#e6f1c4;border-radius:9px;"></div><div class="abs t" style="left:18.5px;top:44.2px;font-size:11.75px;line-height:14px;font-weight:bold;color:#1c1c1c;">MONTH(order_created_d...</div><svg class="abs" style="left:182.8px;top:49.7px;opacity:1" width="7.8" height="4.3" viewBox="0 0 7.8 4.3"><path d="M0 0H7.8L3.9 4.3Z" fill="#2c7a1f"/></svg><div class="abs" style="left:6.0px;top:97.4px;width:198.0px;height:188.2px;box-sizing:border-box;background:#fff;border:1px solid #e3e5e0"></div><div class="abs t" style="left:13.4px;top:106.0px;font-size:11.8px;line-height:14px;font-weight:bold;color:#111;">Rows (Y)</div><div class="abs" style="left:11.0px;top:130.4px;width:188.0px;height:102.2px;box-sizing:border-box;background:#e6f1c4;border-radius:9px;overflow:hidden"><div style="height:23.3px;background:#f3f4f2"></div></div><div class="abs t" style="left:17.4px;top:135.4px;font-size:11.4px;line-height:14px;font-weight:bold;color:#1c1c1c;">Shared Axis 1</div><svg class="abs" style="left:182.8px;top:140.0px;opacity:1" width="7.8" height="4.3" viewBox="0 0 7.8 4.3"><path d="M0 0H7.8L3.9 4.3Z" fill="#777"/></svg><div class="abs t" style="left:19.2px;top:159.6px;font-size:11.8px;line-height:14px;font-weight:bold;color:#1c1c1c;">SUM(order_standard_qty)</div><svg class="abs" style="left:182.8px;top:165.1px;opacity:1" width="7.8" height="4.3" viewBox="0 0 7.8 4.3"><path d="M0 0H7.8L3.9 4.3Z" fill="#2c7a1f"/></svg><div class="abs t" style="left:19.2px;top:181.6px;font-size:11.8px;line-height:14px;font-weight:bold;color:#1c1c1c;">SUM(order_gloss_qty)</div><svg class="abs" style="left:182.8px;top:187.1px;opacity:1" width="7.8" height="4.3" viewBox="0 0 7.8 4.3"><path d="M0 0H7.8L3.9 4.3Z" fill="#2c7a1f"/></svg><div class="abs t" style="left:19.2px;top:203.7px;font-size:11.8px;line-height:14px;font-weight:bold;color:#1c1c1c;">SUM(order_total_qty)</div><svg class="abs" style="left:182.8px;top:209.2px;opacity:1" width="7.8" height="4.3" viewBox="0 0 7.8 4.3"><path d="M0 0H7.8L3.9 4.3Z" fill="#2c7a1f"/></svg><div class="abs" style="left:11.0px;top:237.3px;width:188.0px;height:21.5px;box-sizing:border-box;background:#e6f1c4;border-radius:9px;"></div><div class="abs t" style="left:18.5px;top:240.5px;font-size:11.75px;line-height:14px;font-weight:bold;color:#1c1c1c;">SUM(order_poster_qty)</div><svg class="abs" style="left:182.8px;top:246.0px;opacity:1" width="7.8" height="4.3" viewBox="0 0 7.8 4.3"><path d="M0 0H7.8L3.9 4.3Z" fill="#2c7a1f"/></svg><div class="abs" style="left:6.0px;top:294.0px;width:198.0px;height:310.0px;box-sizing:border-box;background:#fff;border:1px solid #e3e5e0"></div><div class="abs t" style="left:14.0px;top:304.7px;font-size:11.6px;line-height:14px;font-weight:bold;color:#111;">All Layers</div><div class="abs" style="left:7.0px;top:327.0px;width:196.0px;height:1.0px;box-sizing:border-box;background:#cfd4d3"></div><svg class="abs" style="left:18.0px;top:339.0px" width="12" height="10" viewBox="0 0 12 10" fill="none" stroke="#4a4a4a" stroke-width="1.05" stroke-linecap="round" stroke-linejoin="round"><path d="M0.20 5.70L2.70 3.30L5.40 5.70L9.80 1.40M0.20 8.50H9.90"/></svg><div class="abs t" style="left:35.3px;top:336.0px;font-size:11.6px;line-height:14px;font-weight:normal;color:#333;">Line</div><svg class="abs" style="left:186.4px;top:343.0px;opacity:1" width="7.8" height="4.3" viewBox="0 0 7.8 4.3"><path d="M0 0H7.8L3.9 4.3Z" fill="#555"/></svg><div class="abs" style="left:7.0px;top:358.0px;width:196.0px;height:1.0px;box-sizing:border-box;background:#cfd4d3"></div><div class="abs" style="left:37.2px;top:367.3px;width:161.6px;height:21.3px;box-sizing:border-box;border:1px solid #d6d9d4;border-radius:8.5px"></div><div class="abs t" style="left:46.4px;top:370.8px;font-size:11.6px;line-height:14px;font-weight:normal;color:#8c8c8c;">Add a field to Color</div><div class="abs" style="left:37.2px;top:393.5px;width:161.6px;height:21.1px;box-sizing:border-box;border:1px solid #d6d9d4;border-radius:8.5px"></div><div class="abs t" style="left:46.4px;top:396.8px;font-size:11.6px;line-height:14px;font-weight:normal;color:#8c8c8c;">Add a field to Size</div><div class="abs" style="left:37.2px;top:419.1px;width:161.6px;height:21.7px;box-sizing:border-box;background:#ebece8;border-radius:9px"></div><div class="abs t" style="left:44.3px;top:422.2px;font-size:12.1px;line-height:14px;font-weight:bold;color:#111;font-style:italic">Multiple</div><svg class="abs" style="left:182.6px;top:428.4px;opacity:1" width="7.8" height="4.3" viewBox="0 0 7.8 4.3"><path d="M0 0H7.8L3.9 4.3Z" fill="#777"/></svg><div class="abs" style="left:37.2px;top:445.3px;width:161.6px;height:21.1px;box-sizing:border-box;border:1px solid #d6d9d4;border-radius:8.5px"></div><div class="abs t" style="left:46.4px;top:448.8px;font-size:11.6px;line-height:14px;font-weight:normal;color:#8c8c8c;">Add a field to Detail</div><div class="abs" style="left:11.7px;top:367.3px;width:20.9px;height:21.3px;box-sizing:border-box;border:1px solid #e1e3df;border-radius:7px"></div><svg class="abs" style="left:15.0px;top:372.4px" width="14.4" height="11" viewBox="0 0 14.4 11" ><path d="M4.2 0H4.7V11H4.2A4.2 4.2 0 0 1 0 6.8V4.2A4.2 4.2 0 0 1 4.2 0Z" fill="#3f6fe0"/><rect x="4.9" y="0" width="4.6" height="11" fill="#e8b83a"/><path d="M9.7 0H10.2A4.2 4.2 0 0 1 14.4 4.2V6.8A4.2 4.2 0 0 1 10.2 11H9.7Z" fill="#f37a8c"/></svg><svg class="abs" style="left:14.6px;top:396.4px" width="16" height="16" viewBox="0 0 16 16" fill="none" stroke="#555" stroke-width="1"><circle cx="9.3" cy="6.4" r="5.5"/><circle cx="5.1" cy="10.6" r="4.1"/></svg><div class="abs" style="left:16.4px;top:418.4px;font:17.5px 'Liberation Serif',serif;color:#444;line-height:22px">T</div><svg class="abs" style="left:16.6px;top:450.4px" width="12" height="12" viewBox="0 0 12 12" fill="none" stroke="#555" stroke-width="1"><rect x="3.9" y=".6" width="3.5" height="3.5"/><rect x=".6" y="7.1" width="3.5" height="3.5"/><rect x="7.2" y="7.1" width="3.5" height="3.5"/></svg><div class="abs" style="left:7.0px;top:475.0px;width:196.0px;height:1.0px;box-sizing:border-box;background:#dfe2df"></div><div class="abs t" style="left:14.3px;top:485.4px;font-size:11.8px;line-height:14px;font-weight:bold;color:#111;">SUM(order_standard_q...</div><svg class="abs" style="left:180.0px;top:487.0px" width="12" height="10" viewBox="0 0 12 10" fill="none" stroke="#222" stroke-width="1.05" stroke-linecap="round" stroke-linejoin="round"><path d="M0.20 5.70L2.70 3.30L5.40 5.70L9.80 1.40M0.20 8.50H9.90"/></svg><div class="abs" style="left:7.0px;top:507.0px;width:196.0px;height:1.0px;box-sizing:border-box;background:#ebece9"></div><div class="abs t" style="left:14.3px;top:517.4px;font-size:11.8px;line-height:14px;font-weight:bold;color:#111;">SUM(order_gloss_qty)</div><svg class="abs" style="left:180.0px;top:519.0px" width="12" height="10" viewBox="0 0 12 10" fill="none" stroke="#222" stroke-width="1.05" stroke-linecap="round" stroke-linejoin="round"><path d="M0.20 5.70L2.70 3.30L5.40 5.70L9.80 1.40M0.20 8.50H9.90"/></svg><div class="abs" style="left:7.0px;top:539.0px;width:196.0px;height:1.0px;box-sizing:border-box;background:#ebece9"></div><div class="abs t" style="left:14.3px;top:549.4px;font-size:11.8px;line-height:14px;font-weight:bold;color:#111;">SUM(order_total_qty)</div><svg class="abs" style="left:180.0px;top:551.0px" width="12" height="10" viewBox="0 0 12 10" fill="none" stroke="#222" stroke-width="1.05" stroke-linecap="round" stroke-linejoin="round"><path d="M0.20 5.70L2.70 3.30L5.40 5.70L9.80 1.40M0.20 8.50H9.90"/></svg><div class="abs" style="left:7.0px;top:571.0px;width:196.0px;height:1.0px;box-sizing:border-box;background:#ebece9"></div><div class="abs t" style="left:14.3px;top:581.4px;font-size:11.8px;line-height:14px;font-weight:bold;color:#111;">SUM(order_poster_qty)</div><svg class="abs" style="left:180.0px;top:583.0px" width="12" height="10" viewBox="0 0 12 10" fill="none" stroke="#222" stroke-width="1.05" stroke-linecap="round" stroke-linejoin="round"><path d="M0.20 5.70L2.70 3.30L5.40 5.70L9.80 1.40M0.20 8.50H9.90"/></svg><div class="abs" style="left:6.0px;top:611.6px;width:198.0px;height:88.0px;box-sizing:border-box;background:#fff;border:1px solid #e3e5e0"></div><div class="abs t" style="left:13.4px;top:620.2px;font-size:11.8px;line-height:14px;font-weight:bold;color:#111;">Filters</div><div class="abs" style="left:11.1px;top:644.7px;width:187.9px;height:21.9px;box-sizing:border-box;background:#dfe8fb;border-radius:9px;"></div><div class="abs t" style="left:18.5px;top:649.0px;font-size:11.75px;line-height:14px;font-weight:bold;color:#1c1c1c;">YEAR(order_created_date)</div><svg class="abs" style="left:182.8px;top:654.5px;opacity:1" width="7.8" height="4.3" viewBox="0 0 7.8 4.3"><path d="M0 0H7.8L3.9 4.3Z" fill="#3b7ded"/></svg></div><div class="abs dp" style="left:973px;top:49px;width:230px;height:683px"><div class="abs t" style="left:61.1px;top:17.0px;font-size:11.9px;line-height:14px;font-weight:bold;color:#222;">Data</div><div class="abs t" style="left:137.3px;top:16.8px;font-size:12.4px;line-height:14px;font-weight:normal;color:#4a4a4a;-webkit-text-stroke:.25px #4a4a4a">Format</div><div class="abs" style="left:34.0px;top:45.0px;width:80.0px;height:2.0px;box-sizing:border-box;background:#6ab023"></div><div class="abs" style="left:0.0px;top:47.0px;width:230.0px;height:34.0px;box-sizing:border-box;background:#f8f8f6;border-top:1px solid #e2e3df;border-bottom:1px solid #e2e3df"></div><div class="abs t" style="left:8.3px;top:57.4px;font-size:10.6px;line-height:14px;font-weight:bold;color:#666;letter-spacing:.4px">FIELDS</div><div class="abs" style="left:193.4000000000001px;top:54.19999999999999px;font:italic 15.5px 'Liberation Serif',serif;color:#444;line-height:18px">f<span style="font-size:8px;margin-left:-.5px">x</span></div><svg class="abs" style="left:202.4px;top:56.8px" width="9" height="9" viewBox="0 0 9 9" ><path d="M4.5 .8V7.6M1.1 4.2H7.9" stroke="#6ab023" stroke-width="1.5" fill="none"/></svg><div class="abs t" style="left:8.5px;top:95.8px;font-size:11.3px;line-height:14px;font-weight:normal;color:#222;">Dimensions</div><svg class="abs" style="left:14.0px;top:120.0px" width="16" height="14" viewBox="0 0 16 14" fill="none" stroke="#7aa0ea" stroke-width="1" stroke-linecap="round" stroke-linejoin="round"><path d="M11.6 1.3H2.9L1.3 3.3L4.5 7.4M14.4 4.5L12.8 3.4H5L3 5.4M11.6 1.3L13.6 3.4"/><path d="M7.6 7.6V6.4H13.6V7.6M10.6 6.4V12.4M9.2 12.4H12"/></svg><div class="abs t" style="left:37.6px;top:120.7px;font-size:11.3px;line-height:14px;font-weight:normal;color:#2a2a2a;letter-spacing:.06px">Measure Names</div><svg class="abs" style="left:21.0px;top:144.0px" width="10" height="10" viewBox="0 0 10 10" fill="none" stroke="#7aa0ea" stroke-width="1" stroke-linecap="round"><path d="M3.5 .5V9.5M6.5 .5V9.5M.5 3.5H9.5M.5 6.5H9.5"/></svg><div class="abs t" style="left:37.6px;top:142.7px;font-size:11.3px;line-height:14px;font-weight:normal;color:#2a2a2a;letter-spacing:.06px">account_id</div><svg class="abs" style="left:21.0px;top:166.0px" width="11" height="10" viewBox="0 0 11 10" fill="none" stroke="#7aa0ea" stroke-width="1" stroke-linecap="round" stroke-linejoin="round"><path d="M1.5 2.6V.5H9.5V2.6M5.5 .5V8.5M3.4 8.5H7.6"/></svg><div class="abs t" style="left:37.6px;top:164.7px;font-size:11.3px;line-height:14px;font-weight:normal;color:#2a2a2a;letter-spacing:.06px">account_name</div><svg class="abs" style="left:21.0px;top:188.0px" width="11" height="10" viewBox="0 0 11 10" fill="none" stroke="#7aa0ea" stroke-width="1" stroke-linecap="round" stroke-linejoin="round"><path d="M1.5 2.6V.5H9.5V2.6M5.5 .5V8.5M3.4 8.5H7.6"/></svg><div class="abs t" style="left:37.6px;top:186.7px;font-size:11.3px;line-height:14px;font-weight:normal;color:#2a2a2a;letter-spacing:.06px">account_primary_contact</div><svg class="abs" style="left:21.0px;top:210.0px" width="11" height="10" viewBox="0 0 11 10" fill="none" stroke="#7aa0ea" stroke-width="1" stroke-linecap="round" stroke-linejoin="round"><path d="M1.5 2.6V.5H9.5V2.6M5.5 .5V8.5M3.4 8.5H7.6"/></svg><div class="abs t" style="left:37.6px;top:208.7px;font-size:11.3px;line-height:14px;font-weight:normal;color:#2a2a2a;letter-spacing:.06px">account_website</div><svg class="abs" style="left:21.0px;top:232.0px" width="10" height="10" viewBox="0 0 10 10" fill="none" stroke="#7aa0ea" stroke-width="1" stroke-linecap="round"><rect x=".5" y="1.5" width="9" height="8" rx="1.3"/><path d="M.5 3.5H9.5M2.5 .2V1.5M7.5 .2V1.5"/><g fill="#7aa0ea" stroke="none"><circle cx="5.5" cy="5.5" r=".62"/><circle cx="7.5" cy="5.5" r=".62"/><circle cx="3.5" cy="7.5" r=".62"/><circle cx="5.5" cy="7.5" r=".62"/><circle cx="7.5" cy="7.5" r=".62"/></g></svg><div class="abs t" style="left:37.6px;top:230.7px;font-size:11.3px;line-height:14px;font-weight:normal;color:#2a2a2a;letter-spacing:.06px">order_created_date</div><svg class="abs" style="left:21.0px;top:254.0px" width="11" height="10" viewBox="0 0 11 10" fill="none" stroke="#7aa0ea" stroke-width="1" stroke-linecap="round" stroke-linejoin="round"><path d="M1.5 2.6V.5H9.5V2.6M5.5 .5V8.5M3.4 8.5H7.6"/></svg><div class="abs t" style="left:37.6px;top:252.7px;font-size:11.3px;line-height:14px;font-weight:normal;color:#2a2a2a;letter-spacing:.06px">order_created_do_w_name</div><svg class="abs" style="left:21.0px;top:276.0px" width="11" height="10" viewBox="0 0 11 10" fill="none" stroke="#7aa0ea" stroke-width="1" stroke-linecap="round" stroke-linejoin="round"><path d="M1.5 2.6V.5H9.5V2.6M5.5 .5V8.5M3.4 8.5H7.6"/></svg><div class="abs t" style="left:37.6px;top:274.7px;font-size:11.3px;line-height:14px;font-weight:normal;color:#2a2a2a;letter-spacing:.06px">order_created_month_name</div><svg class="abs" style="left:21.0px;top:298.0px" width="10" height="10" viewBox="0 0 10 10" fill="none" stroke="#7aa0ea" stroke-width="1" stroke-linecap="round"><path d="M3.5 .5V9.5M6.5 .5V9.5M.5 3.5H9.5M.5 6.5H9.5"/></svg><div class="abs t" style="left:37.6px;top:296.7px;font-size:11.3px;line-height:14px;font-weight:normal;color:#2a2a2a;letter-spacing:.06px">order_id</div><svg class="abs" style="left:21.0px;top:320.0px" width="10" height="10" viewBox="0 0 10 10" fill="none" stroke="#7aa0ea" stroke-width="1" stroke-linecap="round"><path d="M3.5 .5V9.5M6.5 .5V9.5M.5 3.5H9.5M.5 6.5H9.5"/></svg><div class="abs t" style="left:37.6px;top:318.7px;font-size:11.3px;line-height:14px;font-weight:normal;color:#2a2a2a;letter-spacing:.06px">region_id</div><svg class="abs" style="left:21.0px;top:342.0px" width="11" height="10" viewBox="0 0 11 10" fill="none" stroke="#7aa0ea" stroke-width="1" stroke-linecap="round" stroke-linejoin="round"><path d="M1.5 2.6V.5H9.5V2.6M5.5 .5V8.5M3.4 8.5H7.6"/></svg><div class="abs t" style="left:37.6px;top:340.7px;font-size:11.3px;line-height:14px;font-weight:normal;color:#2a2a2a;letter-spacing:.06px">region_name</div><svg class="abs" style="left:21.0px;top:364.0px" width="10" height="10" viewBox="0 0 10 10" fill="none" stroke="#7aa0ea" stroke-width="1" stroke-linecap="round"><path d="M3.5 .5V9.5M6.5 .5V9.5M.5 3.5H9.5M.5 6.5H9.5"/></svg><div class="abs t" style="left:37.6px;top:362.7px;font-size:11.3px;line-height:14px;font-weight:normal;color:#2a2a2a;letter-spacing:.06px">sales_rep_id</div><svg class="abs" style="left:21.0px;top:386.0px" width="11" height="10" viewBox="0 0 11 10" fill="none" stroke="#7aa0ea" stroke-width="1" stroke-linecap="round" stroke-linejoin="round"><path d="M1.5 2.6V.5H9.5V2.6M5.5 .5V8.5M3.4 8.5H7.6"/></svg><div class="abs t" style="left:37.6px;top:384.7px;font-size:11.3px;line-height:14px;font-weight:normal;color:#2a2a2a;letter-spacing:.06px">sales_rep_name</div><svg class="abs" style="left:21.0px;top:408.0px" width="11" height="10" viewBox="0 0 11 10" fill="none" stroke="#7aa0ea" stroke-width="1" stroke-linecap="round" stroke-linejoin="round"><path d="M1.5 2.6V.5H9.5V2.6M5.5 .5V8.5M3.4 8.5H7.6"/></svg><div class="abs t" style="left:37.6px;top:406.7px;font-size:11.3px;line-height:14px;font-weight:normal;color:#2a2a2a;letter-spacing:.06px">web_event_channel</div><svg class="abs" style="left:21.0px;top:430.0px" width="11" height="10" viewBox="0 0 11 10" fill="none" stroke="#7aa0ea" stroke-width="1" stroke-linecap="round" stroke-linejoin="round"><path d="M1.5 2.6V.5H9.5V2.6M5.5 .5V8.5M3.4 8.5H7.6"/></svg><div class="abs t" style="left:37.6px;top:428.7px;font-size:11.3px;line-height:14px;font-weight:normal;color:#2a2a2a;letter-spacing:.06px">web_event_created_occurred...</div><svg class="abs" style="left:21.0px;top:452.0px" width="10" height="10" viewBox="0 0 10 10" fill="none" stroke="#7aa0ea" stroke-width="1" stroke-linecap="round"><path d="M3.5 .5V9.5M6.5 .5V9.5M.5 3.5H9.5M.5 6.5H9.5"/></svg><div class="abs t" style="left:37.6px;top:450.7px;font-size:11.3px;line-height:14px;font-weight:normal;color:#2a2a2a;letter-spacing:.06px">web_event_id</div><svg class="abs" style="left:21.0px;top:474.0px" width="10" height="10" viewBox="0 0 10 10" fill="none" stroke="#7aa0ea" stroke-width="1" stroke-linecap="round"><rect x=".5" y="1.5" width="9" height="8" rx="1.3"/><path d="M.5 3.5H9.5M2.5 .2V1.5M7.5 .2V1.5"/><g fill="#7aa0ea" stroke="none"><circle cx="5.5" cy="5.5" r=".62"/><circle cx="7.5" cy="5.5" r=".62"/><circle cx="3.5" cy="7.5" r=".62"/><circle cx="5.5" cy="7.5" r=".62"/><circle cx="7.5" cy="7.5" r=".62"/></g></svg><div class="abs t" style="left:37.6px;top:472.7px;font-size:11.3px;line-height:14px;font-weight:normal;color:#2a2a2a;letter-spacing:.06px">web_event_occurred_date</div><svg class="abs" style="left:21.0px;top:496.0px" width="11" height="10" viewBox="0 0 11 10" fill="none" stroke="#7aa0ea" stroke-width="1" stroke-linecap="round" stroke-linejoin="round"><path d="M1.5 2.6V.5H9.5V2.6M5.5 .5V8.5M3.4 8.5H7.6"/></svg><div class="abs t" style="left:37.6px;top:494.7px;font-size:11.3px;line-height:14px;font-weight:normal;color:#2a2a2a;letter-spacing:.06px">web_event_occurred_do_w_na...</div><div class="abs" style="left:216.0px;top:117.0px;width:14.0px;height:410.0px;box-sizing:border-box;border-left:1px solid #ededed"></div><div class="abs" style="left:220.3px;top:120.1px;width:7.6px;height:397.6px;box-sizing:border-box;background:#c1c1c1;border-radius:4px"></div><div class="abs" style="left:0.0px;top:527.0px;width:230.0px;height:1.0px;box-sizing:border-box;background:#e2e3df"></div><div class="abs t" style="left:8.5px;top:542.5px;font-size:11.3px;line-height:14px;font-weight:normal;color:#222;">Measures</div><svg class="abs" style="left:14.0px;top:567.0px" width="16" height="15" viewBox="0 0 16 15" fill="none" stroke="#6dbb1a" stroke-width="1" stroke-linecap="round" stroke-linejoin="round"><path d="M11.6 1.3H2.9L1.3 3.3L4.5 7.4M14.4 4.5L12.8 3.4H5L3 5.4M11.6 1.3L13.6 3.4"/><path d="M8.5 6.2V13.6M11.4 6.2V13.6M6.2 8.5H13.9M6.2 11.3H13.9" stroke-width=".8" opacity=".62"/></svg><div class="abs t" style="left:37.6px;top:568.2px;font-size:11.3px;line-height:14px;font-weight:normal;color:#2a2a2a;letter-spacing:.06px">Measure Values</div><svg class="abs" style="left:21.0px;top:591.0px" width="10" height="10" viewBox="0 0 10 10" fill="none" stroke="#6dbb1a" stroke-width="1" stroke-linecap="round"><path d="M3.5 .5V9.5M6.5 .5V9.5M.5 3.5H9.5M.5 6.5H9.5"/></svg><div class="abs t" style="left:37.6px;top:590.2px;font-size:11.3px;line-height:14px;font-weight:normal;color:#2a2a2a;letter-spacing:.06px">account_lat</div><svg class="abs" style="left:21.0px;top:613.0px" width="10" height="10" viewBox="0 0 10 10" fill="none" stroke="#6dbb1a" stroke-width="1" stroke-linecap="round"><path d="M3.5 .5V9.5M6.5 .5V9.5M.5 3.5H9.5M.5 6.5H9.5"/></svg><div class="abs t" style="left:37.6px;top:612.2px;font-size:11.3px;line-height:14px;font-weight:normal;color:#2a2a2a;letter-spacing:.06px">account_lon</div><svg class="abs" style="left:21.0px;top:635.0px" width="10" height="10" viewBox="0 0 10 10" fill="none" stroke="#6dbb1a" stroke-width="1" stroke-linecap="round"><path d="M3.5 .5V9.5M6.5 .5V9.5M.5 3.5H9.5M.5 6.5H9.5"/></svg><div class="abs t" style="left:37.6px;top:634.2px;font-size:11.3px;line-height:14px;font-weight:normal;color:#2a2a2a;letter-spacing:.06px">order_created_day</div><svg class="abs" style="left:21.0px;top:657.0px" width="10" height="10" viewBox="0 0 10 10" fill="none" stroke="#6dbb1a" stroke-width="1" stroke-linecap="round"><path d="M3.5 .5V9.5M6.5 .5V9.5M.5 3.5H9.5M.5 6.5H9.5"/></svg><div class="abs t" style="left:37.6px;top:656.2px;font-size:11.3px;line-height:14px;font-weight:normal;color:#2a2a2a;letter-spacing:.06px">order_created_do_w</div><svg class="abs" style="left:21.0px;top:679.0px" width="10" height="10" viewBox="0 0 10 10" fill="none" stroke="#6dbb1a" stroke-width="1" stroke-linecap="round"><path d="M3.5 .5V9.5M6.5 .5V9.5M.5 3.5H9.5M.5 6.5H9.5"/></svg><div class="abs t" style="left:37.6px;top:678.2px;font-size:11.3px;line-height:14px;font-weight:normal;color:#2a2a2a;letter-spacing:.06px">order_created_day_</div><div class="abs" style="left:216.0px;top:564.0px;width:14.0px;height:120.0px;box-sizing:border-box;border-left:1px solid #ededed"></div><div class="abs" style="left:220.3px;top:567.3px;width:7.6px;height:146.7px;box-sizing:border-box;background:#c1c1c1;border-radius:4px"></div></div><div class="abs" style="left:0.0px;top:49.0px;width:1204.0px;height:1.0px;box-sizing:border-box;background:#e4e5e2"></div></div>
<div class="num">3.4</div>
</body></html>
